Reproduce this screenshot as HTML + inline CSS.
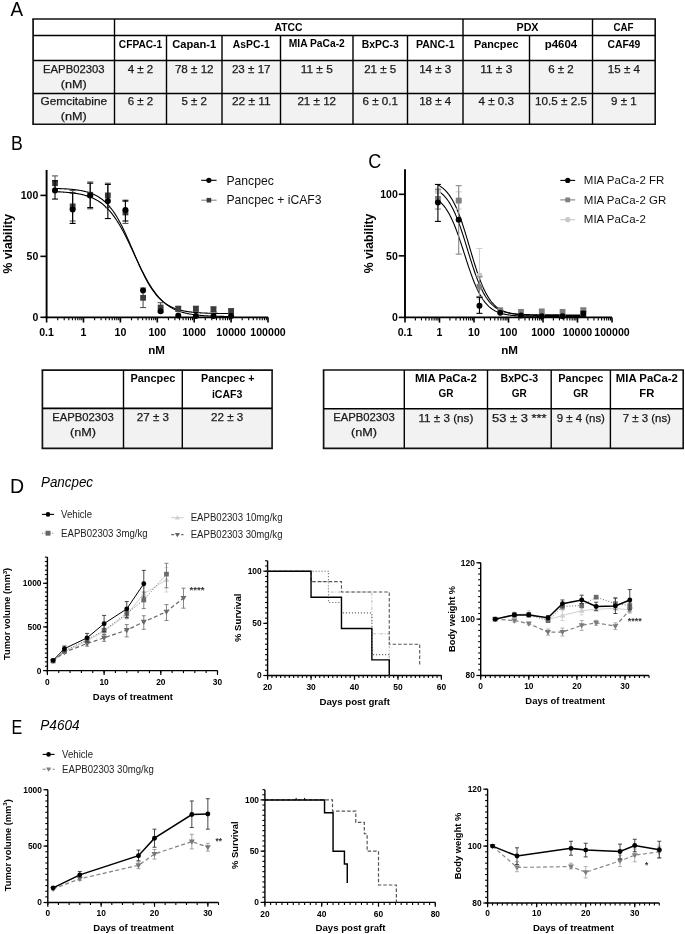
<!DOCTYPE html>
<html><head><meta charset="utf-8"><style>
html,body{margin:0;padding:0;background:#fff;overflow:hidden;}
svg{display:block;font-family:"Liberation Sans", sans-serif;will-change:transform;}
</style></head><body>
<svg width="685" height="934" viewBox="0 0 685 934">
<rect width="685" height="934" fill="#fff"/>
<rect x="33.10" y="60.50" width="622.10" height="63.80" fill="#f2f2f2"/>
<text x="288.50" y="31.00" font-size="11" font-weight="bold" text-anchor="middle" fill="#000" textLength="28" lengthAdjust="spacingAndGlyphs" >ATCC</text>
<text x="527.50" y="31.00" font-size="11" font-weight="bold" text-anchor="middle" fill="#000" textLength="22" lengthAdjust="spacingAndGlyphs" >PDX</text>
<text x="623.50" y="31.00" font-size="11" font-weight="bold" text-anchor="middle" fill="#000" textLength="20" lengthAdjust="spacingAndGlyphs" >CAF</text>
<text x="140.50" y="47.80" font-size="11" font-weight="bold" text-anchor="middle" fill="#000" textLength="43.3" lengthAdjust="spacingAndGlyphs" >CFPAC-1</text>
<text x="194.25" y="47.80" font-size="11" font-weight="bold" text-anchor="middle" fill="#000" textLength="44" lengthAdjust="spacingAndGlyphs" >Capan-1</text>
<text x="251.25" y="47.80" font-size="11" font-weight="bold" text-anchor="middle" fill="#000" textLength="36.8" lengthAdjust="spacingAndGlyphs" >AsPC-1</text>
<text x="316.75" y="46.80" font-size="10" font-weight="bold" text-anchor="middle" fill="#000" textLength="56" lengthAdjust="spacingAndGlyphs" >MIA PaCa-2</text>
<text x="380.25" y="47.80" font-size="11" font-weight="bold" text-anchor="middle" fill="#000" textLength="36.8" lengthAdjust="spacingAndGlyphs" >BxPC-3</text>
<text x="435.25" y="47.80" font-size="11" font-weight="bold" text-anchor="middle" fill="#000" textLength="38.6" lengthAdjust="spacingAndGlyphs" >PANC-1</text>
<text x="496.25" y="47.80" font-size="11" font-weight="bold" text-anchor="middle" fill="#000" textLength="44.5" lengthAdjust="spacingAndGlyphs" >Pancpec</text>
<text x="561.00" y="47.80" font-size="11" font-weight="bold" text-anchor="middle" fill="#000" textLength="32.5" lengthAdjust="spacingAndGlyphs" >p4604</text>
<text x="623.85" y="47.80" font-size="11" font-weight="bold" text-anchor="middle" fill="#000" textLength="32.9" lengthAdjust="spacingAndGlyphs" >CAF49</text>
<text x="73.80" y="72.70" font-size="11" font-weight="normal" text-anchor="middle" fill="#1a1a1a" textLength="61.5" lengthAdjust="spacingAndGlyphs" stroke="#1a1a1a" stroke-width="0.25">EAPB02303</text>
<text x="73.80" y="87.80" font-size="11" font-weight="normal" text-anchor="middle" fill="#1a1a1a" textLength="26" lengthAdjust="spacingAndGlyphs" stroke="#1a1a1a" stroke-width="0.25">(nM)</text>
<text x="73.80" y="105.10" font-size="11" font-weight="normal" text-anchor="middle" fill="#1a1a1a" textLength="66.6" lengthAdjust="spacingAndGlyphs" stroke="#1a1a1a" stroke-width="0.25">Gemcitabine</text>
<text x="73.80" y="120.30" font-size="11" font-weight="normal" text-anchor="middle" fill="#1a1a1a" textLength="26" lengthAdjust="spacingAndGlyphs" stroke="#1a1a1a" stroke-width="0.25">(nM)</text>
<text x="140.50" y="72.70" font-size="11" font-weight="normal" text-anchor="middle" fill="#1a1a1a" textLength="25.5" lengthAdjust="spacingAndGlyphs" stroke="#1a1a1a" stroke-width="0.25">4 ± 2</text>
<text x="140.50" y="105.10" font-size="11" font-weight="normal" text-anchor="middle" fill="#1a1a1a" textLength="25.5" lengthAdjust="spacingAndGlyphs" stroke="#1a1a1a" stroke-width="0.25">6 ± 2</text>
<text x="194.25" y="72.70" font-size="11" font-weight="normal" text-anchor="middle" fill="#1a1a1a" textLength="38.7" lengthAdjust="spacingAndGlyphs" stroke="#1a1a1a" stroke-width="0.25">78 ± 12</text>
<text x="194.25" y="105.10" font-size="11" font-weight="normal" text-anchor="middle" fill="#1a1a1a" textLength="25.5" lengthAdjust="spacingAndGlyphs" stroke="#1a1a1a" stroke-width="0.25">5 ± 2</text>
<text x="251.25" y="72.70" font-size="11" font-weight="normal" text-anchor="middle" fill="#1a1a1a" textLength="38.7" lengthAdjust="spacingAndGlyphs" stroke="#1a1a1a" stroke-width="0.25">23 ± 17</text>
<text x="251.25" y="105.10" font-size="11" font-weight="normal" text-anchor="middle" fill="#1a1a1a" textLength="38.7" lengthAdjust="spacingAndGlyphs" stroke="#1a1a1a" stroke-width="0.25">22 ± 11</text>
<text x="316.75" y="72.70" font-size="11" font-weight="normal" text-anchor="middle" fill="#1a1a1a" textLength="32.1" lengthAdjust="spacingAndGlyphs" stroke="#1a1a1a" stroke-width="0.25">11 ± 5</text>
<text x="316.75" y="105.10" font-size="11" font-weight="normal" text-anchor="middle" fill="#1a1a1a" textLength="38.7" lengthAdjust="spacingAndGlyphs" stroke="#1a1a1a" stroke-width="0.25">21 ± 12</text>
<text x="380.25" y="72.70" font-size="11" font-weight="normal" text-anchor="middle" fill="#1a1a1a" textLength="32.1" lengthAdjust="spacingAndGlyphs" stroke="#1a1a1a" stroke-width="0.25">21 ± 5</text>
<text x="380.25" y="105.10" font-size="11" font-weight="normal" text-anchor="middle" fill="#1a1a1a" textLength="35.4" lengthAdjust="spacingAndGlyphs" stroke="#1a1a1a" stroke-width="0.25">6 ± 0.1</text>
<text x="435.25" y="72.70" font-size="11" font-weight="normal" text-anchor="middle" fill="#1a1a1a" textLength="32.1" lengthAdjust="spacingAndGlyphs" stroke="#1a1a1a" stroke-width="0.25">14 ± 3</text>
<text x="435.25" y="105.10" font-size="11" font-weight="normal" text-anchor="middle" fill="#1a1a1a" textLength="32.1" lengthAdjust="spacingAndGlyphs" stroke="#1a1a1a" stroke-width="0.25">18 ± 4</text>
<text x="496.25" y="72.70" font-size="11" font-weight="normal" text-anchor="middle" fill="#1a1a1a" textLength="32.1" lengthAdjust="spacingAndGlyphs" stroke="#1a1a1a" stroke-width="0.25">11 ± 3</text>
<text x="496.25" y="105.10" font-size="11" font-weight="normal" text-anchor="middle" fill="#1a1a1a" textLength="35.4" lengthAdjust="spacingAndGlyphs" stroke="#1a1a1a" stroke-width="0.25">4 ± 0.3</text>
<text x="561.00" y="72.70" font-size="11" font-weight="normal" text-anchor="middle" fill="#1a1a1a" textLength="25.5" lengthAdjust="spacingAndGlyphs" stroke="#1a1a1a" stroke-width="0.25">6 ± 2</text>
<text x="561.00" y="105.10" font-size="11" font-weight="normal" text-anchor="middle" fill="#1a1a1a" textLength="51.9" lengthAdjust="spacingAndGlyphs" stroke="#1a1a1a" stroke-width="0.25">10.5 ± 2.5</text>
<text x="623.85" y="72.70" font-size="11" font-weight="normal" text-anchor="middle" fill="#1a1a1a" textLength="32.1" lengthAdjust="spacingAndGlyphs" stroke="#1a1a1a" stroke-width="0.25">15 ± 4</text>
<text x="623.85" y="105.10" font-size="11" font-weight="normal" text-anchor="middle" fill="#1a1a1a" textLength="25.5" lengthAdjust="spacingAndGlyphs" stroke="#1a1a1a" stroke-width="0.25">9 ± 1</text>
<line x1="32.30" y1="19.00" x2="656.00" y2="19.00" stroke="#111" stroke-width="1.7" stroke-linecap="butt"/>
<line x1="32.30" y1="124.30" x2="656.00" y2="124.30" stroke="#111" stroke-width="1.6" stroke-linecap="butt"/>
<line x1="33.10" y1="19.00" x2="33.10" y2="124.30" stroke="#111" stroke-width="1.7" stroke-linecap="butt"/>
<line x1="655.20" y1="19.00" x2="655.20" y2="124.30" stroke="#111" stroke-width="1.6" stroke-linecap="butt"/>
<line x1="33.10" y1="35.50" x2="655.20" y2="35.50" stroke="#000" stroke-width="1.4" stroke-linecap="butt"/>
<line x1="33.10" y1="60.50" x2="655.20" y2="60.50" stroke="#000" stroke-width="1.6" stroke-linecap="butt"/>
<line x1="33.10" y1="93.50" x2="655.20" y2="93.50" stroke="#000" stroke-width="1.4" stroke-linecap="butt"/>
<line x1="114.50" y1="19.00" x2="114.50" y2="124.30" stroke="#000" stroke-width="1.4" stroke-linecap="butt"/>
<line x1="166.50" y1="35.50" x2="166.50" y2="124.30" stroke="#000" stroke-width="1.4" stroke-linecap="butt"/>
<line x1="222.00" y1="35.50" x2="222.00" y2="124.30" stroke="#000" stroke-width="1.4" stroke-linecap="butt"/>
<line x1="280.50" y1="35.50" x2="280.50" y2="124.30" stroke="#000" stroke-width="1.4" stroke-linecap="butt"/>
<line x1="353.00" y1="35.50" x2="353.00" y2="124.30" stroke="#000" stroke-width="1.4" stroke-linecap="butt"/>
<line x1="407.50" y1="35.50" x2="407.50" y2="124.30" stroke="#000" stroke-width="1.4" stroke-linecap="butt"/>
<line x1="463.00" y1="19.00" x2="463.00" y2="124.30" stroke="#000" stroke-width="1.4" stroke-linecap="butt"/>
<line x1="529.50" y1="35.50" x2="529.50" y2="124.30" stroke="#000" stroke-width="1.4" stroke-linecap="butt"/>
<line x1="592.50" y1="19.00" x2="592.50" y2="124.30" stroke="#000" stroke-width="1.4" stroke-linecap="butt"/>
<text x="10.60" y="15.80" font-size="19.5" font-weight="normal" text-anchor="start" fill="#000" textLength="12.6" lengthAdjust="spacingAndGlyphs" >A</text>
<text x="10.90" y="150.00" font-size="19.5" font-weight="normal" text-anchor="start" fill="#000" textLength="11.8" lengthAdjust="spacingAndGlyphs" >B</text>
<text x="368.30" y="168.10" font-size="20.5" font-weight="normal" text-anchor="start" fill="#000" textLength="13" lengthAdjust="spacingAndGlyphs" >C</text>
<rect x="42.40" y="408.40" width="229.70" height="40.00" fill="#f2f2f2"/>
<text x="152.90" y="382.40" font-size="11" font-weight="bold" text-anchor="middle" fill="#000" textLength="45" lengthAdjust="spacingAndGlyphs" >Pancpec</text>
<text x="227.80" y="382.40" font-size="11" font-weight="bold" text-anchor="middle" fill="#000" textLength="53.5" lengthAdjust="spacingAndGlyphs" >Pancpec +</text>
<text x="227.20" y="397.80" font-size="11" font-weight="bold" text-anchor="middle" fill="#000" textLength="30.5" lengthAdjust="spacingAndGlyphs" >iCAF3</text>
<text x="82.95" y="420.70" font-size="11" font-weight="normal" text-anchor="middle" fill="#1a1a1a" textLength="61.5" lengthAdjust="spacingAndGlyphs" stroke="#1a1a1a" stroke-width="0.25">EAPB02303</text>
<text x="82.95" y="435.80" font-size="11" font-weight="normal" text-anchor="middle" fill="#1a1a1a" textLength="26" lengthAdjust="spacingAndGlyphs" stroke="#1a1a1a" stroke-width="0.25">(nM)</text>
<text x="152.90" y="421.00" font-size="11" font-weight="normal" text-anchor="middle" fill="#1a1a1a" textLength="32.123" lengthAdjust="spacingAndGlyphs" stroke="#1a1a1a" stroke-width="0.25">27 ± 3</text>
<text x="227.20" y="421.00" font-size="11" font-weight="normal" text-anchor="middle" fill="#1a1a1a" textLength="32.123" lengthAdjust="spacingAndGlyphs" stroke="#1a1a1a" stroke-width="0.25">22 ± 3</text>
<line x1="41.60" y1="370.10" x2="272.90" y2="370.10" stroke="#111" stroke-width="1.7" stroke-linecap="butt"/>
<line x1="41.60" y1="448.40" x2="272.90" y2="448.40" stroke="#111" stroke-width="1.6" stroke-linecap="butt"/>
<line x1="42.40" y1="370.10" x2="42.40" y2="448.40" stroke="#111" stroke-width="1.7" stroke-linecap="butt"/>
<line x1="272.10" y1="370.10" x2="272.10" y2="448.40" stroke="#111" stroke-width="1.6" stroke-linecap="butt"/>
<line x1="42.40" y1="408.40" x2="272.10" y2="408.40" stroke="#000" stroke-width="1.6" stroke-linecap="butt"/>
<line x1="123.50" y1="370.10" x2="123.50" y2="448.40" stroke="#000" stroke-width="1.4" stroke-linecap="butt"/>
<line x1="182.30" y1="370.10" x2="182.30" y2="448.40" stroke="#000" stroke-width="1.4" stroke-linecap="butt"/>
<rect x="323.60" y="408.80" width="359.60" height="39.60" fill="#f2f2f2"/>
<text x="445.90" y="382.40" font-size="11" font-weight="bold" text-anchor="middle" fill="#000" textLength="62" lengthAdjust="spacingAndGlyphs" >MIA PaCa-2</text>
<text x="445.90" y="397.40" font-size="11" font-weight="bold" text-anchor="middle" fill="#000" textLength="15" lengthAdjust="spacingAndGlyphs" >GR</text>
<text x="519.35" y="382.40" font-size="11" font-weight="bold" text-anchor="middle" fill="#000" textLength="37.5" lengthAdjust="spacingAndGlyphs" >BxPC-3</text>
<text x="519.35" y="397.40" font-size="11" font-weight="bold" text-anchor="middle" fill="#000" textLength="15" lengthAdjust="spacingAndGlyphs" >GR</text>
<text x="580.80" y="382.40" font-size="11" font-weight="bold" text-anchor="middle" fill="#000" textLength="45" lengthAdjust="spacingAndGlyphs" >Pancpec</text>
<text x="580.80" y="397.40" font-size="11" font-weight="bold" text-anchor="middle" fill="#000" textLength="15" lengthAdjust="spacingAndGlyphs" >GR</text>
<text x="646.80" y="382.40" font-size="11" font-weight="bold" text-anchor="middle" fill="#000" textLength="62" lengthAdjust="spacingAndGlyphs" >MIA PaCa-2</text>
<text x="646.80" y="397.40" font-size="11" font-weight="bold" text-anchor="middle" fill="#000" textLength="15" lengthAdjust="spacingAndGlyphs" >FR</text>
<text x="363.95" y="420.70" font-size="11" font-weight="normal" text-anchor="middle" fill="#1a1a1a" textLength="61.5" lengthAdjust="spacingAndGlyphs" stroke="#1a1a1a" stroke-width="0.25">EAPB02303</text>
<text x="363.95" y="435.80" font-size="11" font-weight="normal" text-anchor="middle" fill="#1a1a1a" textLength="26" lengthAdjust="spacingAndGlyphs" stroke="#1a1a1a" stroke-width="0.25">(nM)</text>
<text x="445.90" y="421.50" font-size="11" font-weight="normal" text-anchor="middle" fill="#1a1a1a" textLength="54.8" lengthAdjust="spacingAndGlyphs" stroke="#1a1a1a" stroke-width="0.25">11 ± 3 (ns)</text>
<text x="519.35" y="421.50" font-size="11" font-weight="normal" text-anchor="middle" fill="#1a1a1a" textLength="54.5" lengthAdjust="spacingAndGlyphs" stroke="#1a1a1a" stroke-width="0.25">53 ± 3 ***</text>
<text x="580.80" y="421.50" font-size="11" font-weight="normal" text-anchor="middle" fill="#1a1a1a" textLength="48.3" lengthAdjust="spacingAndGlyphs" stroke="#1a1a1a" stroke-width="0.25">9 ± 4 (ns)</text>
<text x="646.80" y="421.50" font-size="11" font-weight="normal" text-anchor="middle" fill="#1a1a1a" textLength="48.3" lengthAdjust="spacingAndGlyphs" stroke="#1a1a1a" stroke-width="0.25">7 ± 3 (ns)</text>
<line x1="322.80" y1="370.00" x2="684.00" y2="370.00" stroke="#111" stroke-width="1.7" stroke-linecap="butt"/>
<line x1="322.80" y1="448.40" x2="684.00" y2="448.40" stroke="#111" stroke-width="1.6" stroke-linecap="butt"/>
<line x1="323.60" y1="370.00" x2="323.60" y2="448.40" stroke="#111" stroke-width="1.7" stroke-linecap="butt"/>
<line x1="683.20" y1="370.00" x2="683.20" y2="448.40" stroke="#111" stroke-width="1.6" stroke-linecap="butt"/>
<line x1="323.60" y1="408.80" x2="683.20" y2="408.80" stroke="#000" stroke-width="1.6" stroke-linecap="butt"/>
<line x1="404.30" y1="370.00" x2="404.30" y2="448.40" stroke="#000" stroke-width="1.4" stroke-linecap="butt"/>
<line x1="487.50" y1="370.00" x2="487.50" y2="448.40" stroke="#000" stroke-width="1.4" stroke-linecap="butt"/>
<line x1="551.20" y1="370.00" x2="551.20" y2="448.40" stroke="#000" stroke-width="1.4" stroke-linecap="butt"/>
<line x1="610.40" y1="370.00" x2="610.40" y2="448.40" stroke="#000" stroke-width="1.4" stroke-linecap="butt"/>
<polyline points="52.88,188.40 53.62,188.41 54.36,188.43 55.10,188.45 55.83,188.47 56.57,188.49 57.31,188.52 58.05,188.54 58.79,188.57 59.52,188.59 60.26,188.62 61.00,188.65 61.74,188.69 62.48,188.72 63.21,188.76 63.95,188.79 64.69,188.83 65.43,188.88 66.17,188.92 66.90,188.97 67.64,189.02 68.38,189.07 69.12,189.13 69.86,189.18 70.59,189.25 71.33,189.31 72.07,189.38 72.81,189.45 73.55,189.53 74.28,189.61 75.02,189.70 75.76,189.79 76.50,189.88 77.24,189.98 77.97,190.09 78.71,190.20 79.45,190.32 80.19,190.44 80.93,190.57 81.66,190.71 82.40,190.86 83.14,191.01 83.88,191.17 84.62,191.34 85.35,191.52 86.09,191.71 86.83,191.91 87.57,192.12 88.31,192.34 89.04,192.58 89.78,192.82 90.52,193.08 91.26,193.35 92.00,193.64 92.73,193.94 93.47,194.26 94.21,194.59 94.95,194.94 95.69,195.31 96.42,195.69 97.16,196.10 97.90,196.52 98.64,196.97 99.38,197.43 100.11,197.92 100.85,198.43 101.59,198.97 102.33,199.53 103.07,200.12 103.80,200.74 104.54,201.38 105.28,202.05 106.02,202.75 106.76,203.48 107.49,204.25 108.23,205.04 108.97,205.87 109.71,206.73 110.45,207.62 111.18,208.55 111.92,209.51 112.66,210.51 113.40,211.55 114.14,212.62 114.87,213.73 115.61,214.88 116.35,216.06 117.09,217.28 117.83,218.54 118.56,219.83 119.30,221.16 120.04,222.52 120.78,223.92 121.52,225.35 122.25,226.82 122.99,228.31 123.73,229.84 124.47,231.39 125.21,232.97 125.94,234.58 126.68,236.21 127.42,237.86 128.16,239.53 128.90,241.21 129.63,242.91 130.37,244.63 131.11,246.35 131.85,248.08 132.59,249.81 133.32,251.54 134.06,253.28 134.80,255.01 135.54,256.73 136.28,258.45 137.01,260.15 137.75,261.84 138.49,263.51 139.23,265.17 139.97,266.80 140.70,268.41 141.44,270.00 142.18,271.56 142.92,273.09 143.66,274.59 144.39,276.06 145.13,277.50 145.87,278.91 146.61,280.28 147.35,281.61 148.08,282.91 148.82,284.18 149.56,285.41 150.30,286.60 151.04,287.75 151.77,288.87 152.51,289.95 153.25,290.99 153.99,292.00 154.73,292.97 155.46,293.91 156.20,294.81 156.94,295.68 157.68,296.51 158.42,297.32 159.15,298.08 159.89,298.82 160.63,299.53 161.37,300.21 162.11,300.86 162.84,301.48 163.58,302.07 164.32,302.64 165.06,303.18 165.80,303.70 166.53,304.19 167.27,304.66 168.01,305.11 168.75,305.54 169.49,305.95 170.22,306.34 170.96,306.71 171.70,307.07 172.44,307.40 173.18,307.72 173.91,308.03 174.65,308.31 175.39,308.59 176.13,308.85 176.87,309.10 177.60,309.34 178.34,309.56 179.08,309.77 179.82,309.97 180.56,310.17 181.29,310.35 182.03,310.52 182.77,310.68 183.51,310.84 184.25,310.99 184.98,311.13 185.72,311.26 186.46,311.39 187.20,311.51 187.94,311.62 188.67,311.73 189.41,311.83 190.15,311.92 190.89,312.01 191.63,312.10 192.36,312.18 193.10,312.26 193.84,312.33 194.58,312.40 195.32,312.47 196.05,312.53 196.79,312.59 197.53,312.65 198.27,312.70 199.01,312.75 199.74,312.80 200.48,312.84 201.22,312.89 201.96,312.93 202.70,312.97 203.43,313.00 204.17,313.04 204.91,313.07 205.65,313.10 206.39,313.13 207.12,313.16 207.86,313.18 208.60,313.21 209.34,313.23 210.08,313.25 210.81,313.27 211.55,313.29 212.29,313.31 213.03,313.33 213.77,313.35 214.50,313.36 215.24,313.38 215.98,313.39 216.72,313.40 217.46,313.42 218.19,313.43 218.93,313.44 219.67,313.45 220.41,313.46 221.15,313.47 221.88,313.48 222.62,313.49 223.36,313.50 224.10,313.51 224.84,313.51 225.57,313.52 226.31,313.53 227.05,313.53 227.79,313.54 228.53,313.54 229.26,313.55 230.00,313.55 230.74,313.56" fill="none" stroke="#000" stroke-width="1.1" stroke-linejoin="miter"/>
<polyline points="52.88,191.61 53.62,191.63 54.36,191.66 55.10,191.69 55.83,191.71 56.57,191.74 57.31,191.78 58.05,191.81 58.79,191.84 59.52,191.88 60.26,191.92 61.00,191.96 61.74,192.00 62.48,192.05 63.21,192.09 63.95,192.14 64.69,192.20 65.43,192.25 66.17,192.31 66.90,192.37 67.64,192.43 68.38,192.50 69.12,192.57 69.86,192.64 70.59,192.72 71.33,192.80 72.07,192.89 72.81,192.98 73.55,193.07 74.28,193.17 75.02,193.27 75.76,193.38 76.50,193.50 77.24,193.62 77.97,193.74 78.71,193.88 79.45,194.02 80.19,194.16 80.93,194.32 81.66,194.48 82.40,194.65 83.14,194.82 83.88,195.01 84.62,195.20 85.35,195.41 86.09,195.62 86.83,195.85 87.57,196.08 88.31,196.33 89.04,196.59 89.78,196.86 90.52,197.14 91.26,197.44 92.00,197.75 92.73,198.07 93.47,198.41 94.21,198.77 94.95,199.14 95.69,199.53 96.42,199.93 97.16,200.36 97.90,200.80 98.64,201.26 99.38,201.74 100.11,202.24 100.85,202.77 101.59,203.31 102.33,203.88 103.07,204.47 103.80,205.09 104.54,205.73 105.28,206.40 106.02,207.09 106.76,207.81 107.49,208.55 108.23,209.33 108.97,210.13 109.71,210.96 110.45,211.82 111.18,212.71 111.92,213.63 112.66,214.58 113.40,215.57 114.14,216.58 114.87,217.62 115.61,218.70 116.35,219.80 117.09,220.94 117.83,222.10 118.56,223.30 119.30,224.53 120.04,225.78 120.78,227.07 121.52,228.38 122.25,229.72 122.99,231.09 123.73,232.48 124.47,233.90 125.21,235.34 125.94,236.80 126.68,238.28 127.42,239.78 128.16,241.30 128.90,242.83 129.63,244.38 130.37,245.94 131.11,247.51 131.85,249.09 132.59,250.67 133.32,252.26 134.06,253.85 134.80,255.44 135.54,257.03 136.28,258.61 137.01,260.19 137.75,261.76 138.49,263.32 139.23,264.87 139.97,266.40 140.70,267.92 141.44,269.42 142.18,270.90 142.92,272.37 143.66,273.81 144.39,275.23 145.13,276.62 145.87,277.99 146.61,279.33 147.35,280.65 148.08,281.94 148.82,283.20 149.56,284.43 150.30,285.62 151.04,286.79 151.77,287.93 152.51,289.04 153.25,290.12 153.99,291.16 154.73,292.18 155.46,293.16 156.20,294.11 156.94,295.04 157.68,295.93 158.42,296.79 159.15,297.63 159.89,298.43 160.63,299.21 161.37,299.96 162.11,300.68 162.84,301.37 163.58,302.04 164.32,302.68 165.06,303.30 165.80,303.90 166.53,304.47 167.27,305.01 168.01,305.54 168.75,306.04 169.49,306.53 170.22,306.99 170.96,307.43 171.70,307.86 172.44,308.27 173.18,308.66 173.91,309.03 174.65,309.38 175.39,309.73 176.13,310.05 176.87,310.36 177.60,310.66 178.34,310.94 179.08,311.22 179.82,311.47 180.56,311.72 181.29,311.96 182.03,312.18 182.77,312.40 183.51,312.60 184.25,312.80 184.98,312.99 185.72,313.16 186.46,313.33 187.20,313.50 187.94,313.65 188.67,313.80 189.41,313.94 190.15,314.07 190.89,314.20 191.63,314.32 192.36,314.43 193.10,314.54 193.84,314.65 194.58,314.75 195.32,314.84 196.05,314.93 196.79,315.02 197.53,315.10 198.27,315.18 199.01,315.25 199.74,315.32 200.48,315.39 201.22,315.45 201.96,315.51 202.70,315.57 203.43,315.62 204.17,315.68 204.91,315.73 205.65,315.77 206.39,315.82 207.12,315.86 207.86,315.90 208.60,315.94 209.34,315.98 210.08,316.01 210.81,316.05 211.55,316.08 212.29,316.11 213.03,316.14 213.77,316.16 214.50,316.19 215.24,316.21 215.98,316.24 216.72,316.26 217.46,316.28 218.19,316.30 218.93,316.32 219.67,316.34 220.41,316.36 221.15,316.37 221.88,316.39 222.62,316.40 223.36,316.42 224.10,316.43 224.84,316.44 225.57,316.46 226.31,316.47 227.05,316.48 227.79,316.49 228.53,316.50 229.26,316.51 230.00,316.52 230.74,316.53" fill="none" stroke="#000" stroke-width="1.1" stroke-linejoin="miter"/>
<line x1="55.01" y1="175.90" x2="55.01" y2="189.31" stroke="#555" stroke-width="1.1" stroke-linecap="butt"/>
<line x1="52.01" y1="175.90" x2="58.01" y2="175.90" stroke="#555" stroke-width="1.1" stroke-linecap="butt"/>
<line x1="52.01" y1="189.31" x2="58.01" y2="189.31" stroke="#555" stroke-width="1.1" stroke-linecap="butt"/>
<line x1="72.65" y1="190.52" x2="72.65" y2="221.00" stroke="#555" stroke-width="1.1" stroke-linecap="butt"/>
<line x1="69.65" y1="190.52" x2="75.65" y2="190.52" stroke="#555" stroke-width="1.1" stroke-linecap="butt"/>
<line x1="69.65" y1="221.00" x2="75.65" y2="221.00" stroke="#555" stroke-width="1.1" stroke-linecap="butt"/>
<line x1="90.21" y1="181.99" x2="90.21" y2="208.81" stroke="#555" stroke-width="1.1" stroke-linecap="butt"/>
<line x1="87.21" y1="181.99" x2="93.21" y2="181.99" stroke="#555" stroke-width="1.1" stroke-linecap="butt"/>
<line x1="87.21" y1="208.81" x2="93.21" y2="208.81" stroke="#555" stroke-width="1.1" stroke-linecap="butt"/>
<line x1="107.85" y1="183.21" x2="107.85" y2="207.59" stroke="#555" stroke-width="1.1" stroke-linecap="butt"/>
<line x1="104.85" y1="183.21" x2="110.85" y2="183.21" stroke="#555" stroke-width="1.1" stroke-linecap="butt"/>
<line x1="104.85" y1="207.59" x2="110.85" y2="207.59" stroke="#555" stroke-width="1.1" stroke-linecap="butt"/>
<line x1="125.44" y1="201.50" x2="125.44" y2="223.44" stroke="#555" stroke-width="1.1" stroke-linecap="butt"/>
<line x1="122.44" y1="201.50" x2="128.44" y2="201.50" stroke="#555" stroke-width="1.1" stroke-linecap="butt"/>
<line x1="122.44" y1="223.44" x2="128.44" y2="223.44" stroke="#555" stroke-width="1.1" stroke-linecap="butt"/>
<line x1="143.09" y1="288.04" x2="143.09" y2="307.55" stroke="#555" stroke-width="1.1" stroke-linecap="butt"/>
<line x1="140.09" y1="288.04" x2="146.09" y2="288.04" stroke="#555" stroke-width="1.1" stroke-linecap="butt"/>
<line x1="140.09" y1="307.55" x2="146.09" y2="307.55" stroke="#555" stroke-width="1.1" stroke-linecap="butt"/>
<line x1="160.62" y1="302.67" x2="160.62" y2="312.42" stroke="#555" stroke-width="1.1" stroke-linecap="butt"/>
<line x1="157.62" y1="302.67" x2="163.62" y2="302.67" stroke="#555" stroke-width="1.1" stroke-linecap="butt"/>
<line x1="157.62" y1="312.42" x2="163.62" y2="312.42" stroke="#555" stroke-width="1.1" stroke-linecap="butt"/>
<line x1="178.27" y1="306.33" x2="178.27" y2="311.20" stroke="#555" stroke-width="1.1" stroke-linecap="butt"/>
<line x1="175.27" y1="306.33" x2="181.27" y2="306.33" stroke="#555" stroke-width="1.1" stroke-linecap="butt"/>
<line x1="175.27" y1="311.20" x2="181.27" y2="311.20" stroke="#555" stroke-width="1.1" stroke-linecap="butt"/>
<line x1="195.89" y1="306.33" x2="195.89" y2="311.20" stroke="#555" stroke-width="1.1" stroke-linecap="butt"/>
<line x1="192.89" y1="306.33" x2="198.89" y2="306.33" stroke="#555" stroke-width="1.1" stroke-linecap="butt"/>
<line x1="192.89" y1="311.20" x2="198.89" y2="311.20" stroke="#555" stroke-width="1.1" stroke-linecap="butt"/>
<line x1="213.49" y1="306.94" x2="213.49" y2="311.81" stroke="#555" stroke-width="1.1" stroke-linecap="butt"/>
<line x1="210.49" y1="306.94" x2="216.49" y2="306.94" stroke="#555" stroke-width="1.1" stroke-linecap="butt"/>
<line x1="210.49" y1="311.81" x2="216.49" y2="311.81" stroke="#555" stroke-width="1.1" stroke-linecap="butt"/>
<line x1="231.10" y1="308.77" x2="231.10" y2="313.64" stroke="#555" stroke-width="1.1" stroke-linecap="butt"/>
<line x1="228.10" y1="308.77" x2="234.10" y2="308.77" stroke="#555" stroke-width="1.1" stroke-linecap="butt"/>
<line x1="228.10" y1="313.64" x2="234.10" y2="313.64" stroke="#555" stroke-width="1.1" stroke-linecap="butt"/>
<rect x="52.11" y="180.31" width="5.80" height="5.80" fill="#3c3c3c"/>
<rect x="69.75" y="203.47" width="5.80" height="5.80" fill="#3c3c3c"/>
<rect x="87.31" y="191.89" width="5.80" height="5.80" fill="#3c3c3c"/>
<rect x="104.95" y="192.50" width="5.80" height="5.80" fill="#3c3c3c"/>
<rect x="122.54" y="209.57" width="5.80" height="5.80" fill="#3c3c3c"/>
<rect x="140.19" y="294.90" width="5.80" height="5.80" fill="#3c3c3c"/>
<rect x="157.72" y="304.65" width="5.80" height="5.80" fill="#3c3c3c"/>
<rect x="175.37" y="305.87" width="5.80" height="5.80" fill="#3c3c3c"/>
<rect x="192.99" y="305.87" width="5.80" height="5.80" fill="#3c3c3c"/>
<rect x="210.59" y="306.48" width="5.80" height="5.80" fill="#3c3c3c"/>
<rect x="228.20" y="308.31" width="5.80" height="5.80" fill="#3c3c3c"/>
<line x1="55.01" y1="180.77" x2="55.01" y2="199.06" stroke="#000" stroke-width="1.1" stroke-linecap="butt"/>
<line x1="52.01" y1="180.77" x2="58.01" y2="180.77" stroke="#000" stroke-width="1.1" stroke-linecap="butt"/>
<line x1="52.01" y1="199.06" x2="58.01" y2="199.06" stroke="#000" stroke-width="1.1" stroke-linecap="butt"/>
<line x1="72.65" y1="192.96" x2="72.65" y2="223.44" stroke="#000" stroke-width="1.1" stroke-linecap="butt"/>
<line x1="69.65" y1="192.96" x2="75.65" y2="192.96" stroke="#000" stroke-width="1.1" stroke-linecap="butt"/>
<line x1="69.65" y1="223.44" x2="75.65" y2="223.44" stroke="#000" stroke-width="1.1" stroke-linecap="butt"/>
<line x1="90.21" y1="183.21" x2="90.21" y2="207.59" stroke="#000" stroke-width="1.1" stroke-linecap="butt"/>
<line x1="87.21" y1="183.21" x2="93.21" y2="183.21" stroke="#000" stroke-width="1.1" stroke-linecap="butt"/>
<line x1="87.21" y1="207.59" x2="93.21" y2="207.59" stroke="#000" stroke-width="1.1" stroke-linecap="butt"/>
<line x1="107.85" y1="184.43" x2="107.85" y2="218.56" stroke="#000" stroke-width="1.1" stroke-linecap="butt"/>
<line x1="104.85" y1="184.43" x2="110.85" y2="184.43" stroke="#000" stroke-width="1.1" stroke-linecap="butt"/>
<line x1="104.85" y1="218.56" x2="110.85" y2="218.56" stroke="#000" stroke-width="1.1" stroke-linecap="butt"/>
<line x1="125.44" y1="200.28" x2="125.44" y2="221.00" stroke="#000" stroke-width="1.1" stroke-linecap="butt"/>
<line x1="122.44" y1="200.28" x2="128.44" y2="200.28" stroke="#000" stroke-width="1.1" stroke-linecap="butt"/>
<line x1="122.44" y1="221.00" x2="128.44" y2="221.00" stroke="#000" stroke-width="1.1" stroke-linecap="butt"/>
<circle cx="55.01" cy="190.52" r="3.0" fill="#000"/>
<circle cx="72.65" cy="209.42" r="3.0" fill="#000"/>
<circle cx="90.21" cy="195.40" r="3.0" fill="#000"/>
<circle cx="107.85" cy="200.89" r="3.0" fill="#000"/>
<circle cx="125.44" cy="210.03" r="3.0" fill="#000"/>
<circle cx="143.09" cy="290.48" r="3.0" fill="#000"/>
<circle cx="160.62" cy="311.20" r="3.0" fill="#000"/>
<circle cx="178.27" cy="315.47" r="3.0" fill="#000"/>
<circle cx="195.89" cy="316.08" r="3.0" fill="#000"/>
<circle cx="213.49" cy="316.08" r="3.0" fill="#000"/>
<circle cx="231.10" cy="316.08" r="3.0" fill="#000"/>
<line x1="46.60" y1="170.00" x2="46.60" y2="318.20" stroke="#000" stroke-width="1.9" stroke-linecap="butt"/>
<line x1="40.40" y1="317.30" x2="46.60" y2="317.30" stroke="#000" stroke-width="1.6" stroke-linecap="butt"/>
<text x="38.30" y="321.00" font-size="10.5" font-weight="bold" text-anchor="end" fill="#000" >0</text>
<line x1="40.40" y1="256.35" x2="46.60" y2="256.35" stroke="#000" stroke-width="1.6" stroke-linecap="butt"/>
<text x="38.30" y="260.05" font-size="10.5" font-weight="bold" text-anchor="end" fill="#000" >50</text>
<line x1="40.40" y1="195.40" x2="46.60" y2="195.40" stroke="#000" stroke-width="1.6" stroke-linecap="butt"/>
<text x="38.30" y="199.10" font-size="10.5" font-weight="bold" text-anchor="end" fill="#000" >100</text>
<line x1="45.60" y1="317.30" x2="268.00" y2="317.30" stroke="#000" stroke-width="1.8" stroke-linecap="butt"/>
<line x1="46.60" y1="317.30" x2="46.60" y2="322.50" stroke="#000" stroke-width="1.6" stroke-linecap="butt"/>
<text x="46.60" y="335.70" font-size="10.6" font-weight="bold" text-anchor="middle" fill="#000" >0.1</text>
<line x1="57.71" y1="317.30" x2="57.71" y2="320.30" stroke="#000" stroke-width="1.1" stroke-linecap="butt"/>
<line x1="64.21" y1="317.30" x2="64.21" y2="320.30" stroke="#000" stroke-width="1.1" stroke-linecap="butt"/>
<line x1="68.82" y1="317.30" x2="68.82" y2="320.30" stroke="#000" stroke-width="1.1" stroke-linecap="butt"/>
<line x1="72.39" y1="317.30" x2="72.39" y2="320.30" stroke="#000" stroke-width="1.1" stroke-linecap="butt"/>
<line x1="75.31" y1="317.30" x2="75.31" y2="320.30" stroke="#000" stroke-width="1.1" stroke-linecap="butt"/>
<line x1="77.78" y1="317.30" x2="77.78" y2="320.30" stroke="#000" stroke-width="1.1" stroke-linecap="butt"/>
<line x1="79.92" y1="317.30" x2="79.92" y2="320.30" stroke="#000" stroke-width="1.1" stroke-linecap="butt"/>
<line x1="81.81" y1="317.30" x2="81.81" y2="320.30" stroke="#000" stroke-width="1.1" stroke-linecap="butt"/>
<line x1="83.50" y1="317.30" x2="83.50" y2="322.50" stroke="#000" stroke-width="1.6" stroke-linecap="butt"/>
<text x="83.50" y="335.70" font-size="10.6" font-weight="bold" text-anchor="middle" fill="#000" >1</text>
<line x1="94.61" y1="317.30" x2="94.61" y2="320.30" stroke="#000" stroke-width="1.1" stroke-linecap="butt"/>
<line x1="101.11" y1="317.30" x2="101.11" y2="320.30" stroke="#000" stroke-width="1.1" stroke-linecap="butt"/>
<line x1="105.72" y1="317.30" x2="105.72" y2="320.30" stroke="#000" stroke-width="1.1" stroke-linecap="butt"/>
<line x1="109.29" y1="317.30" x2="109.29" y2="320.30" stroke="#000" stroke-width="1.1" stroke-linecap="butt"/>
<line x1="112.21" y1="317.30" x2="112.21" y2="320.30" stroke="#000" stroke-width="1.1" stroke-linecap="butt"/>
<line x1="114.68" y1="317.30" x2="114.68" y2="320.30" stroke="#000" stroke-width="1.1" stroke-linecap="butt"/>
<line x1="116.82" y1="317.30" x2="116.82" y2="320.30" stroke="#000" stroke-width="1.1" stroke-linecap="butt"/>
<line x1="118.71" y1="317.30" x2="118.71" y2="320.30" stroke="#000" stroke-width="1.1" stroke-linecap="butt"/>
<line x1="120.40" y1="317.30" x2="120.40" y2="322.50" stroke="#000" stroke-width="1.6" stroke-linecap="butt"/>
<text x="120.40" y="335.70" font-size="10.6" font-weight="bold" text-anchor="middle" fill="#000" >10</text>
<line x1="131.51" y1="317.30" x2="131.51" y2="320.30" stroke="#000" stroke-width="1.1" stroke-linecap="butt"/>
<line x1="138.01" y1="317.30" x2="138.01" y2="320.30" stroke="#000" stroke-width="1.1" stroke-linecap="butt"/>
<line x1="142.62" y1="317.30" x2="142.62" y2="320.30" stroke="#000" stroke-width="1.1" stroke-linecap="butt"/>
<line x1="146.19" y1="317.30" x2="146.19" y2="320.30" stroke="#000" stroke-width="1.1" stroke-linecap="butt"/>
<line x1="149.11" y1="317.30" x2="149.11" y2="320.30" stroke="#000" stroke-width="1.1" stroke-linecap="butt"/>
<line x1="151.58" y1="317.30" x2="151.58" y2="320.30" stroke="#000" stroke-width="1.1" stroke-linecap="butt"/>
<line x1="153.72" y1="317.30" x2="153.72" y2="320.30" stroke="#000" stroke-width="1.1" stroke-linecap="butt"/>
<line x1="155.61" y1="317.30" x2="155.61" y2="320.30" stroke="#000" stroke-width="1.1" stroke-linecap="butt"/>
<line x1="157.30" y1="317.30" x2="157.30" y2="322.50" stroke="#000" stroke-width="1.6" stroke-linecap="butt"/>
<text x="157.30" y="335.70" font-size="10.6" font-weight="bold" text-anchor="middle" fill="#000" >100</text>
<line x1="168.41" y1="317.30" x2="168.41" y2="320.30" stroke="#000" stroke-width="1.1" stroke-linecap="butt"/>
<line x1="174.91" y1="317.30" x2="174.91" y2="320.30" stroke="#000" stroke-width="1.1" stroke-linecap="butt"/>
<line x1="179.52" y1="317.30" x2="179.52" y2="320.30" stroke="#000" stroke-width="1.1" stroke-linecap="butt"/>
<line x1="183.09" y1="317.30" x2="183.09" y2="320.30" stroke="#000" stroke-width="1.1" stroke-linecap="butt"/>
<line x1="186.01" y1="317.30" x2="186.01" y2="320.30" stroke="#000" stroke-width="1.1" stroke-linecap="butt"/>
<line x1="188.48" y1="317.30" x2="188.48" y2="320.30" stroke="#000" stroke-width="1.1" stroke-linecap="butt"/>
<line x1="190.62" y1="317.30" x2="190.62" y2="320.30" stroke="#000" stroke-width="1.1" stroke-linecap="butt"/>
<line x1="192.51" y1="317.30" x2="192.51" y2="320.30" stroke="#000" stroke-width="1.1" stroke-linecap="butt"/>
<line x1="194.20" y1="317.30" x2="194.20" y2="322.50" stroke="#000" stroke-width="1.6" stroke-linecap="butt"/>
<text x="194.20" y="335.70" font-size="10.6" font-weight="bold" text-anchor="middle" fill="#000" >1000</text>
<line x1="205.31" y1="317.30" x2="205.31" y2="320.30" stroke="#000" stroke-width="1.1" stroke-linecap="butt"/>
<line x1="211.81" y1="317.30" x2="211.81" y2="320.30" stroke="#000" stroke-width="1.1" stroke-linecap="butt"/>
<line x1="216.42" y1="317.30" x2="216.42" y2="320.30" stroke="#000" stroke-width="1.1" stroke-linecap="butt"/>
<line x1="219.99" y1="317.30" x2="219.99" y2="320.30" stroke="#000" stroke-width="1.1" stroke-linecap="butt"/>
<line x1="222.91" y1="317.30" x2="222.91" y2="320.30" stroke="#000" stroke-width="1.1" stroke-linecap="butt"/>
<line x1="225.38" y1="317.30" x2="225.38" y2="320.30" stroke="#000" stroke-width="1.1" stroke-linecap="butt"/>
<line x1="227.52" y1="317.30" x2="227.52" y2="320.30" stroke="#000" stroke-width="1.1" stroke-linecap="butt"/>
<line x1="229.41" y1="317.30" x2="229.41" y2="320.30" stroke="#000" stroke-width="1.1" stroke-linecap="butt"/>
<line x1="231.10" y1="317.30" x2="231.10" y2="322.50" stroke="#000" stroke-width="1.6" stroke-linecap="butt"/>
<text x="231.10" y="335.70" font-size="10.6" font-weight="bold" text-anchor="middle" fill="#000" >10000</text>
<line x1="242.21" y1="317.30" x2="242.21" y2="320.30" stroke="#000" stroke-width="1.1" stroke-linecap="butt"/>
<line x1="248.71" y1="317.30" x2="248.71" y2="320.30" stroke="#000" stroke-width="1.1" stroke-linecap="butt"/>
<line x1="253.32" y1="317.30" x2="253.32" y2="320.30" stroke="#000" stroke-width="1.1" stroke-linecap="butt"/>
<line x1="256.89" y1="317.30" x2="256.89" y2="320.30" stroke="#000" stroke-width="1.1" stroke-linecap="butt"/>
<line x1="259.81" y1="317.30" x2="259.81" y2="320.30" stroke="#000" stroke-width="1.1" stroke-linecap="butt"/>
<line x1="262.28" y1="317.30" x2="262.28" y2="320.30" stroke="#000" stroke-width="1.1" stroke-linecap="butt"/>
<line x1="264.42" y1="317.30" x2="264.42" y2="320.30" stroke="#000" stroke-width="1.1" stroke-linecap="butt"/>
<line x1="266.31" y1="317.30" x2="266.31" y2="320.30" stroke="#000" stroke-width="1.1" stroke-linecap="butt"/>
<line x1="268.00" y1="317.30" x2="268.00" y2="322.50" stroke="#000" stroke-width="1.6" stroke-linecap="butt"/>
<text x="268.00" y="335.70" font-size="10.6" font-weight="bold" text-anchor="middle" fill="#000" >100000</text>
<text x="12.30" y="243.70" font-size="12.2" font-weight="bold" text-anchor="middle" fill="#000" transform="rotate(-90 12.3 243.7)">% viability</text>
<text x="156.50" y="354.20" font-size="11.6" font-weight="bold" text-anchor="middle" fill="#000" >nM</text>
<polyline points="437.92,199.99 438.61,200.53 439.30,201.10 439.99,201.71 440.68,202.36 441.37,203.04 442.06,203.77 442.75,204.54 443.44,205.34 444.13,206.20 444.82,207.10 445.51,208.05 446.20,209.05 446.89,210.10 447.58,211.20 448.27,212.36 448.96,213.57 449.65,214.84 450.34,216.16 451.03,217.54 451.72,218.98 452.41,220.48 453.10,222.03 453.79,223.64 454.48,225.30 455.17,227.02 455.86,228.79 456.55,230.61 457.24,232.47 457.93,234.39 458.62,236.34 459.31,238.34 460.00,240.37 460.69,242.43 461.38,244.52 462.07,246.63 462.76,248.76 463.45,250.90 464.14,253.05 464.83,255.20 465.52,257.35 466.21,259.49 466.90,261.62 467.59,263.73 468.28,265.82 468.97,267.88 469.66,269.91 470.35,271.90 471.04,273.86 471.73,275.77 472.42,277.64 473.11,279.46 473.80,281.23 474.49,282.95 475.18,284.61 475.87,286.22 476.56,287.77 477.25,289.27 477.94,290.71 478.63,292.09 479.32,293.41 480.01,294.68 480.70,295.89 481.39,297.05 482.08,298.15 482.77,299.20 483.46,300.20 484.15,301.15 484.84,302.05 485.53,302.91 486.22,303.72 486.91,304.48 487.60,305.21 488.29,305.89 488.98,306.54 489.67,307.15 490.36,307.72 491.05,308.27 491.74,308.78 492.43,309.26 493.12,309.71 493.81,310.13 494.50,310.53 495.19,310.91 495.88,311.26 496.57,311.59 497.26,311.90 497.95,312.19 498.64,312.47 499.33,312.72 500.02,312.96 500.71,313.19 501.40,313.40 502.09,313.59 502.78,313.78 503.47,313.95 504.16,314.11 504.85,314.26 505.54,314.40 506.23,314.54 506.92,314.66 507.61,314.78 508.30,314.88 508.99,314.98 509.68,315.08 510.37,315.17 511.06,315.25 511.75,315.33 512.44,315.40 513.13,315.47 513.82,315.53 514.51,315.59 515.20,315.64 515.89,315.69 516.58,315.74 517.27,315.79 517.96,315.83 518.65,315.87 519.34,315.90 520.03,315.94 520.72,315.97 521.41,316.00 522.10,316.03 522.79,316.05 523.48,316.08 524.17,316.10 524.86,316.12 525.55,316.14 526.24,316.16 526.93,316.18 527.62,316.19 528.31,316.21 529.00,316.22 529.69,316.23 530.38,316.25 531.07,316.26 531.76,316.27 532.45,316.28 533.14,316.29 533.83,316.29 534.52,316.30 535.21,316.31 535.90,316.32 536.59,316.32 537.28,316.33 537.97,316.34 538.66,316.34 539.35,316.35 540.04,316.35 540.73,316.35 541.42,316.36 542.11,316.36 542.80,316.37 543.49,316.37 544.18,316.37 544.87,316.38 545.56,316.38 546.25,316.38 546.94,316.38 547.63,316.38 548.32,316.39 549.01,316.39 549.70,316.39 550.39,316.39 551.08,316.39 551.77,316.40 552.46,316.40 553.15,316.40 553.84,316.40 554.53,316.40 555.22,316.40 555.91,316.40 556.60,316.40 557.29,316.40 557.98,316.40 558.67,316.41 559.36,316.41 560.05,316.41 560.74,316.41 561.43,316.41 562.12,316.41 562.81,316.41 563.50,316.41 564.19,316.41 564.88,316.41 565.57,316.41 566.26,316.41 566.95,316.41 567.64,316.41 568.33,316.41 569.02,316.41 569.71,316.41 570.40,316.41 571.09,316.41 571.78,316.41 572.47,316.41 573.16,316.41 573.85,316.41 574.54,316.41 575.23,316.41 575.92,316.41 576.61,316.41 577.30,316.41 577.99,316.41 578.68,316.41 579.37,316.41 580.06,316.41 580.75,316.41 581.44,316.41 582.13,316.41 582.82,316.41" fill="none" stroke="#000" stroke-width="1.1" stroke-linejoin="miter"/>
<polyline points="437.92,190.85 438.61,191.28 439.30,191.74 439.99,192.23 440.68,192.75 441.37,193.30 442.06,193.89 442.75,194.51 443.44,195.18 444.13,195.87 444.82,196.62 445.51,197.40 446.20,198.23 446.89,199.10 447.58,200.02 448.27,201.00 448.96,202.02 449.65,203.10 450.34,204.23 451.03,205.42 451.72,206.66 452.41,207.96 453.10,209.32 453.79,210.74 454.48,212.22 455.17,213.76 455.86,215.36 456.55,217.02 457.24,218.74 457.93,220.52 458.62,222.35 459.31,224.23 460.00,226.17 460.69,228.15 461.38,230.18 462.07,232.25 462.76,234.36 463.45,236.51 464.14,238.68 464.83,240.89 465.52,243.11 466.21,245.34 466.90,247.59 467.59,249.84 468.28,252.10 468.97,254.34 469.66,256.58 470.35,258.80 471.04,261.00 471.73,263.17 472.42,265.31 473.11,267.42 473.80,269.48 474.49,271.51 475.18,273.48 475.87,275.41 476.56,277.29 477.25,279.11 477.94,280.88 478.63,282.59 479.32,284.24 480.01,285.83 480.70,287.37 481.39,288.84 482.08,290.25 482.77,291.60 483.46,292.90 484.15,294.13 484.84,295.31 485.53,296.44 486.22,297.51 486.91,298.52 487.60,299.49 488.29,300.41 488.98,301.28 489.67,302.10 490.36,302.88 491.05,303.61 491.74,304.31 492.43,304.96 493.12,305.58 493.81,306.16 494.50,306.71 495.19,307.23 495.88,307.71 496.57,308.17 497.26,308.60 497.95,309.00 498.64,309.38 499.33,309.74 500.02,310.07 500.71,310.39 501.40,310.68 502.09,310.96 502.78,311.21 503.47,311.46 504.16,311.68 504.85,311.89 505.54,312.09 506.23,312.28 506.92,312.45 507.61,312.62 508.30,312.77 508.99,312.91 509.68,313.04 510.37,313.17 511.06,313.29 511.75,313.39 512.44,313.50 513.13,313.59 513.82,313.68 514.51,313.76 515.20,313.84 515.89,313.91 516.58,313.98 517.27,314.05 517.96,314.10 518.65,314.16 519.34,314.21 520.03,314.26 520.72,314.30 521.41,314.35 522.10,314.39 522.79,314.42 523.48,314.46 524.17,314.49 524.86,314.52 525.55,314.55 526.24,314.57 526.93,314.60 527.62,314.62 528.31,314.64 529.00,314.66 529.69,314.68 530.38,314.70 531.07,314.71 531.76,314.73 532.45,314.74 533.14,314.75 533.83,314.77 534.52,314.78 535.21,314.79 535.90,314.80 536.59,314.81 537.28,314.82 537.97,314.82 538.66,314.83 539.35,314.84 540.04,314.85 540.73,314.85 541.42,314.86 542.11,314.86 542.80,314.87 543.49,314.87 544.18,314.88 544.87,314.88 545.56,314.89 546.25,314.89 546.94,314.89 547.63,314.90 548.32,314.90 549.01,314.90 549.70,314.90 550.39,314.91 551.08,314.91 551.77,314.91 552.46,314.91 553.15,314.91 553.84,314.91 554.53,314.92 555.22,314.92 555.91,314.92 556.60,314.92 557.29,314.92 557.98,314.92 558.67,314.92 559.36,314.92 560.05,314.93 560.74,314.93 561.43,314.93 562.12,314.93 562.81,314.93 563.50,314.93 564.19,314.93 564.88,314.93 565.57,314.93 566.26,314.93 566.95,314.93 567.64,314.93 568.33,314.93 569.02,314.93 569.71,314.93 570.40,314.93 571.09,314.93 571.78,314.93 572.47,314.93 573.16,314.93 573.85,314.93 574.54,314.94 575.23,314.94 575.92,314.94 576.61,314.94 577.30,314.94 577.99,314.94 578.68,314.94 579.37,314.94 580.06,314.94 580.75,314.94 581.44,314.94 582.13,314.94 582.82,314.94" fill="none" stroke="#000" stroke-width="1.1" stroke-linejoin="miter"/>
<polyline points="437.92,184.96 438.61,185.33 439.30,185.72 439.99,186.15 440.68,186.59 441.37,187.07 442.06,187.58 442.75,188.12 443.44,188.69 444.13,189.30 444.82,189.95 445.51,190.63 446.20,191.36 446.89,192.12 447.58,192.93 448.27,193.79 448.96,194.70 449.65,195.66 450.34,196.66 451.03,197.73 451.72,198.84 452.41,200.02 453.10,201.25 453.79,202.54 454.48,203.89 455.17,205.30 455.86,206.77 456.55,208.31 457.24,209.91 457.93,211.57 458.62,213.29 459.31,215.08 460.00,216.92 460.69,218.82 461.38,220.78 462.07,222.79 462.76,224.86 463.45,226.97 464.14,229.12 464.83,231.32 465.52,233.55 466.21,235.82 466.90,238.11 467.59,240.42 468.28,242.75 468.97,245.10 469.66,247.44 470.35,249.79 471.04,252.14 471.73,254.47 472.42,256.78 473.11,259.08 473.80,261.34 474.49,263.58 475.18,265.78 475.87,267.94 476.56,270.05 477.25,272.12 477.94,274.14 478.63,276.10 479.32,278.01 480.01,279.86 480.70,281.64 481.39,283.37 482.08,285.04 482.77,286.64 483.46,288.18 484.15,289.66 484.84,291.08 485.53,292.44 486.22,293.73 486.91,294.97 487.60,296.15 488.29,297.27 488.98,298.33 489.67,299.34 490.36,300.31 491.05,301.22 491.74,302.08 492.43,302.89 493.12,303.66 493.81,304.39 494.50,305.08 495.19,305.73 495.88,306.34 496.57,306.92 497.26,307.46 497.95,307.97 498.64,308.45 499.33,308.90 500.02,309.32 500.71,309.72 501.40,310.10 502.09,310.45 502.78,310.77 503.47,311.08 504.16,311.37 504.85,311.64 505.54,311.90 506.23,312.14 506.92,312.36 507.61,312.57 508.30,312.76 508.99,312.94 509.68,313.12 510.37,313.28 511.06,313.43 511.75,313.57 512.44,313.70 513.13,313.82 513.82,313.93 514.51,314.04 515.20,314.14 515.89,314.23 516.58,314.32 517.27,314.40 517.96,314.48 518.65,314.55 519.34,314.62 520.03,314.68 520.72,314.74 521.41,314.79 522.10,314.84 522.79,314.89 523.48,314.93 524.17,314.97 524.86,315.01 525.55,315.05 526.24,315.08 526.93,315.11 527.62,315.14 528.31,315.17 529.00,315.20 529.69,315.22 530.38,315.24 531.07,315.26 531.76,315.28 532.45,315.30 533.14,315.32 533.83,315.33 534.52,315.35 535.21,315.36 535.90,315.37 536.59,315.39 537.28,315.40 537.97,315.41 538.66,315.42 539.35,315.43 540.04,315.43 540.73,315.44 541.42,315.45 542.11,315.46 542.80,315.46 543.49,315.47 544.18,315.48 544.87,315.48 545.56,315.49 546.25,315.49 546.94,315.49 547.63,315.50 548.32,315.50 549.01,315.51 549.70,315.51 550.39,315.51 551.08,315.51 551.77,315.52 552.46,315.52 553.15,315.52 553.84,315.52 554.53,315.53 555.22,315.53 555.91,315.53 556.60,315.53 557.29,315.53 557.98,315.53 558.67,315.54 559.36,315.54 560.05,315.54 560.74,315.54 561.43,315.54 562.12,315.54 562.81,315.54 563.50,315.54 564.19,315.54 564.88,315.54 565.57,315.54 566.26,315.54 566.95,315.55 567.64,315.55 568.33,315.55 569.02,315.55 569.71,315.55 570.40,315.55 571.09,315.55 571.78,315.55 572.47,315.55 573.16,315.55 573.85,315.55 574.54,315.55 575.23,315.55 575.92,315.55 576.61,315.55 577.30,315.55 577.99,315.55 578.68,315.55 579.37,315.55 580.06,315.55 580.75,315.55 581.44,315.55 582.13,315.55 582.82,315.55" fill="none" stroke="#000" stroke-width="1.1" stroke-linejoin="miter"/>
<line x1="437.92" y1="188.14" x2="437.92" y2="193.44" stroke="#cfcfcf" stroke-width="1.1" stroke-linecap="butt"/>
<line x1="434.92" y1="188.14" x2="440.92" y2="188.14" stroke="#cfcfcf" stroke-width="1.1" stroke-linecap="butt"/>
<line x1="434.92" y1="193.44" x2="440.92" y2="193.44" stroke="#cfcfcf" stroke-width="1.1" stroke-linecap="butt"/>
<line x1="458.69" y1="191.84" x2="458.69" y2="209.07" stroke="#cfcfcf" stroke-width="1.1" stroke-linecap="butt"/>
<line x1="455.69" y1="191.84" x2="461.69" y2="191.84" stroke="#cfcfcf" stroke-width="1.1" stroke-linecap="butt"/>
<line x1="455.69" y1="209.07" x2="461.69" y2="209.07" stroke="#cfcfcf" stroke-width="1.1" stroke-linecap="butt"/>
<line x1="479.46" y1="248.46" x2="479.46" y2="298.94" stroke="#cfcfcf" stroke-width="1.1" stroke-linecap="butt"/>
<line x1="476.46" y1="248.46" x2="482.46" y2="248.46" stroke="#cfcfcf" stroke-width="1.1" stroke-linecap="butt"/>
<line x1="476.46" y1="298.94" x2="482.46" y2="298.94" stroke="#cfcfcf" stroke-width="1.1" stroke-linecap="butt"/>
<circle cx="437.92" cy="191.22" r="3.0" fill="#c8c8c8"/>
<circle cx="458.69" cy="200.45" r="3.0" fill="#c8c8c8"/>
<circle cx="479.46" cy="275.55" r="3.0" fill="#c8c8c8"/>
<circle cx="500.23" cy="311.25" r="3.0" fill="#c8c8c8"/>
<circle cx="521.01" cy="314.94" r="3.0" fill="#c8c8c8"/>
<circle cx="541.78" cy="314.94" r="3.0" fill="#c8c8c8"/>
<circle cx="562.55" cy="316.17" r="3.0" fill="#c8c8c8"/>
<circle cx="583.32" cy="314.94" r="3.0" fill="#c8c8c8"/>
<line x1="437.92" y1="189.38" x2="437.92" y2="209.07" stroke="#888" stroke-width="1.1" stroke-linecap="butt"/>
<line x1="434.92" y1="189.38" x2="440.92" y2="189.38" stroke="#888" stroke-width="1.1" stroke-linecap="butt"/>
<line x1="434.92" y1="209.07" x2="440.92" y2="209.07" stroke="#888" stroke-width="1.1" stroke-linecap="butt"/>
<line x1="458.69" y1="185.68" x2="458.69" y2="254.13" stroke="#888" stroke-width="1.1" stroke-linecap="butt"/>
<line x1="455.69" y1="185.68" x2="461.69" y2="185.68" stroke="#888" stroke-width="1.1" stroke-linecap="butt"/>
<line x1="455.69" y1="254.13" x2="461.69" y2="254.13" stroke="#888" stroke-width="1.1" stroke-linecap="butt"/>
<line x1="479.46" y1="276.78" x2="479.46" y2="296.47" stroke="#888" stroke-width="1.1" stroke-linecap="butt"/>
<line x1="476.46" y1="276.78" x2="482.46" y2="276.78" stroke="#888" stroke-width="1.1" stroke-linecap="butt"/>
<line x1="476.46" y1="296.47" x2="482.46" y2="296.47" stroke="#888" stroke-width="1.1" stroke-linecap="butt"/>
<line x1="583.32" y1="308.41" x2="583.32" y2="311.86" stroke="#888" stroke-width="1.1" stroke-linecap="butt"/>
<line x1="580.32" y1="308.41" x2="586.32" y2="308.41" stroke="#888" stroke-width="1.1" stroke-linecap="butt"/>
<line x1="580.32" y1="311.86" x2="586.32" y2="311.86" stroke="#888" stroke-width="1.1" stroke-linecap="butt"/>
<rect x="435.02" y="195.95" width="5.80" height="5.80" fill="#7f7f7f"/>
<rect x="455.79" y="197.68" width="5.80" height="5.80" fill="#7f7f7f"/>
<rect x="476.56" y="283.85" width="5.80" height="5.80" fill="#7f7f7f"/>
<rect x="497.33" y="307.36" width="5.80" height="5.80" fill="#7f7f7f"/>
<rect x="518.11" y="308.96" width="5.80" height="5.80" fill="#7f7f7f"/>
<rect x="538.88" y="308.47" width="5.80" height="5.80" fill="#7f7f7f"/>
<rect x="559.65" y="308.96" width="5.80" height="5.80" fill="#7f7f7f"/>
<rect x="580.42" y="307.24" width="5.80" height="5.80" fill="#7f7f7f"/>
<line x1="437.92" y1="184.45" x2="437.92" y2="221.38" stroke="#000" stroke-width="1.1" stroke-linecap="butt"/>
<line x1="434.92" y1="184.45" x2="440.92" y2="184.45" stroke="#000" stroke-width="1.1" stroke-linecap="butt"/>
<line x1="434.92" y1="221.38" x2="440.92" y2="221.38" stroke="#000" stroke-width="1.1" stroke-linecap="butt"/>
<line x1="479.46" y1="297.33" x2="479.46" y2="313.34" stroke="#000" stroke-width="1.1" stroke-linecap="butt"/>
<line x1="476.46" y1="297.33" x2="482.46" y2="297.33" stroke="#000" stroke-width="1.1" stroke-linecap="butt"/>
<line x1="476.46" y1="313.34" x2="482.46" y2="313.34" stroke="#000" stroke-width="1.1" stroke-linecap="butt"/>
<line x1="583.32" y1="311.25" x2="583.32" y2="316.17" stroke="#000" stroke-width="1.1" stroke-linecap="butt"/>
<line x1="580.32" y1="311.25" x2="586.32" y2="311.25" stroke="#000" stroke-width="1.1" stroke-linecap="butt"/>
<line x1="580.32" y1="316.17" x2="586.32" y2="316.17" stroke="#000" stroke-width="1.1" stroke-linecap="butt"/>
<circle cx="437.92" cy="202.55" r="3.0" fill="#000"/>
<circle cx="458.69" cy="219.66" r="3.0" fill="#000"/>
<circle cx="479.46" cy="305.71" r="3.0" fill="#000"/>
<circle cx="500.23" cy="312.85" r="3.0" fill="#000"/>
<circle cx="521.01" cy="315.43" r="3.0" fill="#000"/>
<circle cx="541.78" cy="316.29" r="3.0" fill="#000"/>
<circle cx="562.55" cy="316.29" r="3.0" fill="#000"/>
<circle cx="583.32" cy="313.71" r="3.0" fill="#000"/>
<line x1="405.00" y1="169.30" x2="405.00" y2="318.30" stroke="#000" stroke-width="1.9" stroke-linecap="butt"/>
<line x1="398.80" y1="317.40" x2="405.00" y2="317.40" stroke="#000" stroke-width="1.6" stroke-linecap="butt"/>
<text x="397.80" y="321.10" font-size="10.5" font-weight="bold" text-anchor="end" fill="#000" >0</text>
<line x1="398.80" y1="255.85" x2="405.00" y2="255.85" stroke="#000" stroke-width="1.6" stroke-linecap="butt"/>
<text x="397.80" y="259.55" font-size="10.5" font-weight="bold" text-anchor="end" fill="#000" >50</text>
<line x1="398.80" y1="194.30" x2="405.00" y2="194.30" stroke="#000" stroke-width="1.6" stroke-linecap="butt"/>
<text x="397.80" y="198.00" font-size="10.5" font-weight="bold" text-anchor="end" fill="#000" >100</text>
<line x1="404.00" y1="317.40" x2="612.00" y2="317.40" stroke="#000" stroke-width="1.8" stroke-linecap="butt"/>
<line x1="405.00" y1="317.40" x2="405.00" y2="322.60" stroke="#000" stroke-width="1.6" stroke-linecap="butt"/>
<text x="405.00" y="335.80" font-size="10.6" font-weight="bold" text-anchor="middle" fill="#000" >0.1</text>
<line x1="415.39" y1="317.40" x2="415.39" y2="320.40" stroke="#000" stroke-width="1.1" stroke-linecap="butt"/>
<line x1="421.46" y1="317.40" x2="421.46" y2="320.40" stroke="#000" stroke-width="1.1" stroke-linecap="butt"/>
<line x1="425.77" y1="317.40" x2="425.77" y2="320.40" stroke="#000" stroke-width="1.1" stroke-linecap="butt"/>
<line x1="429.11" y1="317.40" x2="429.11" y2="320.40" stroke="#000" stroke-width="1.1" stroke-linecap="butt"/>
<line x1="431.85" y1="317.40" x2="431.85" y2="320.40" stroke="#000" stroke-width="1.1" stroke-linecap="butt"/>
<line x1="434.16" y1="317.40" x2="434.16" y2="320.40" stroke="#000" stroke-width="1.1" stroke-linecap="butt"/>
<line x1="436.16" y1="317.40" x2="436.16" y2="320.40" stroke="#000" stroke-width="1.1" stroke-linecap="butt"/>
<line x1="437.92" y1="317.40" x2="437.92" y2="320.40" stroke="#000" stroke-width="1.1" stroke-linecap="butt"/>
<line x1="439.50" y1="317.40" x2="439.50" y2="322.60" stroke="#000" stroke-width="1.6" stroke-linecap="butt"/>
<text x="439.50" y="335.80" font-size="10.6" font-weight="bold" text-anchor="middle" fill="#000" >1</text>
<line x1="449.89" y1="317.40" x2="449.89" y2="320.40" stroke="#000" stroke-width="1.1" stroke-linecap="butt"/>
<line x1="455.96" y1="317.40" x2="455.96" y2="320.40" stroke="#000" stroke-width="1.1" stroke-linecap="butt"/>
<line x1="460.27" y1="317.40" x2="460.27" y2="320.40" stroke="#000" stroke-width="1.1" stroke-linecap="butt"/>
<line x1="463.61" y1="317.40" x2="463.61" y2="320.40" stroke="#000" stroke-width="1.1" stroke-linecap="butt"/>
<line x1="466.35" y1="317.40" x2="466.35" y2="320.40" stroke="#000" stroke-width="1.1" stroke-linecap="butt"/>
<line x1="468.66" y1="317.40" x2="468.66" y2="320.40" stroke="#000" stroke-width="1.1" stroke-linecap="butt"/>
<line x1="470.66" y1="317.40" x2="470.66" y2="320.40" stroke="#000" stroke-width="1.1" stroke-linecap="butt"/>
<line x1="472.42" y1="317.40" x2="472.42" y2="320.40" stroke="#000" stroke-width="1.1" stroke-linecap="butt"/>
<line x1="474.00" y1="317.40" x2="474.00" y2="322.60" stroke="#000" stroke-width="1.6" stroke-linecap="butt"/>
<text x="474.00" y="335.80" font-size="10.6" font-weight="bold" text-anchor="middle" fill="#000" >10</text>
<line x1="484.39" y1="317.40" x2="484.39" y2="320.40" stroke="#000" stroke-width="1.1" stroke-linecap="butt"/>
<line x1="490.46" y1="317.40" x2="490.46" y2="320.40" stroke="#000" stroke-width="1.1" stroke-linecap="butt"/>
<line x1="494.77" y1="317.40" x2="494.77" y2="320.40" stroke="#000" stroke-width="1.1" stroke-linecap="butt"/>
<line x1="498.11" y1="317.40" x2="498.11" y2="320.40" stroke="#000" stroke-width="1.1" stroke-linecap="butt"/>
<line x1="500.85" y1="317.40" x2="500.85" y2="320.40" stroke="#000" stroke-width="1.1" stroke-linecap="butt"/>
<line x1="503.16" y1="317.40" x2="503.16" y2="320.40" stroke="#000" stroke-width="1.1" stroke-linecap="butt"/>
<line x1="505.16" y1="317.40" x2="505.16" y2="320.40" stroke="#000" stroke-width="1.1" stroke-linecap="butt"/>
<line x1="506.92" y1="317.40" x2="506.92" y2="320.40" stroke="#000" stroke-width="1.1" stroke-linecap="butt"/>
<line x1="508.50" y1="317.40" x2="508.50" y2="322.60" stroke="#000" stroke-width="1.6" stroke-linecap="butt"/>
<text x="508.50" y="335.80" font-size="10.6" font-weight="bold" text-anchor="middle" fill="#000" >100</text>
<line x1="518.89" y1="317.40" x2="518.89" y2="320.40" stroke="#000" stroke-width="1.1" stroke-linecap="butt"/>
<line x1="524.96" y1="317.40" x2="524.96" y2="320.40" stroke="#000" stroke-width="1.1" stroke-linecap="butt"/>
<line x1="529.27" y1="317.40" x2="529.27" y2="320.40" stroke="#000" stroke-width="1.1" stroke-linecap="butt"/>
<line x1="532.61" y1="317.40" x2="532.61" y2="320.40" stroke="#000" stroke-width="1.1" stroke-linecap="butt"/>
<line x1="535.35" y1="317.40" x2="535.35" y2="320.40" stroke="#000" stroke-width="1.1" stroke-linecap="butt"/>
<line x1="537.66" y1="317.40" x2="537.66" y2="320.40" stroke="#000" stroke-width="1.1" stroke-linecap="butt"/>
<line x1="539.66" y1="317.40" x2="539.66" y2="320.40" stroke="#000" stroke-width="1.1" stroke-linecap="butt"/>
<line x1="541.42" y1="317.40" x2="541.42" y2="320.40" stroke="#000" stroke-width="1.1" stroke-linecap="butt"/>
<line x1="543.00" y1="317.40" x2="543.00" y2="322.60" stroke="#000" stroke-width="1.6" stroke-linecap="butt"/>
<text x="543.00" y="335.80" font-size="10.6" font-weight="bold" text-anchor="middle" fill="#000" >1000</text>
<line x1="553.39" y1="317.40" x2="553.39" y2="320.40" stroke="#000" stroke-width="1.1" stroke-linecap="butt"/>
<line x1="559.46" y1="317.40" x2="559.46" y2="320.40" stroke="#000" stroke-width="1.1" stroke-linecap="butt"/>
<line x1="563.77" y1="317.40" x2="563.77" y2="320.40" stroke="#000" stroke-width="1.1" stroke-linecap="butt"/>
<line x1="567.11" y1="317.40" x2="567.11" y2="320.40" stroke="#000" stroke-width="1.1" stroke-linecap="butt"/>
<line x1="569.85" y1="317.40" x2="569.85" y2="320.40" stroke="#000" stroke-width="1.1" stroke-linecap="butt"/>
<line x1="572.16" y1="317.40" x2="572.16" y2="320.40" stroke="#000" stroke-width="1.1" stroke-linecap="butt"/>
<line x1="574.16" y1="317.40" x2="574.16" y2="320.40" stroke="#000" stroke-width="1.1" stroke-linecap="butt"/>
<line x1="575.92" y1="317.40" x2="575.92" y2="320.40" stroke="#000" stroke-width="1.1" stroke-linecap="butt"/>
<line x1="577.50" y1="317.40" x2="577.50" y2="322.60" stroke="#000" stroke-width="1.6" stroke-linecap="butt"/>
<text x="577.50" y="335.80" font-size="10.6" font-weight="bold" text-anchor="middle" fill="#000" >10000</text>
<line x1="587.89" y1="317.40" x2="587.89" y2="320.40" stroke="#000" stroke-width="1.1" stroke-linecap="butt"/>
<line x1="593.96" y1="317.40" x2="593.96" y2="320.40" stroke="#000" stroke-width="1.1" stroke-linecap="butt"/>
<line x1="598.27" y1="317.40" x2="598.27" y2="320.40" stroke="#000" stroke-width="1.1" stroke-linecap="butt"/>
<line x1="601.61" y1="317.40" x2="601.61" y2="320.40" stroke="#000" stroke-width="1.1" stroke-linecap="butt"/>
<line x1="604.35" y1="317.40" x2="604.35" y2="320.40" stroke="#000" stroke-width="1.1" stroke-linecap="butt"/>
<line x1="606.66" y1="317.40" x2="606.66" y2="320.40" stroke="#000" stroke-width="1.1" stroke-linecap="butt"/>
<line x1="608.66" y1="317.40" x2="608.66" y2="320.40" stroke="#000" stroke-width="1.1" stroke-linecap="butt"/>
<line x1="610.42" y1="317.40" x2="610.42" y2="320.40" stroke="#000" stroke-width="1.1" stroke-linecap="butt"/>
<line x1="612.00" y1="317.40" x2="612.00" y2="322.60" stroke="#000" stroke-width="1.6" stroke-linecap="butt"/>
<text x="612.00" y="335.80" font-size="10.6" font-weight="bold" text-anchor="middle" fill="#000" >100000</text>
<text x="373.50" y="243.40" font-size="12.2" font-weight="bold" text-anchor="middle" fill="#000" transform="rotate(-90 373.5 243.4)">% viability</text>
<text x="509.50" y="354.20" font-size="11.6" font-weight="bold" text-anchor="middle" fill="#000" >nM</text>
<line x1="201.20" y1="180.30" x2="216.60" y2="180.30" stroke="#000" stroke-width="1.1" stroke-linecap="butt"/>
<circle cx="208.90" cy="180.30" r="2.6" fill="#000"/>
<text x="226.40" y="184.90" font-size="12.2" fill="#111">Pancpec</text>
<line x1="201.20" y1="200.20" x2="216.60" y2="200.20" stroke="#888" stroke-width="1.1" stroke-linecap="butt"/>
<rect x="206.60" y="197.90" width="4.60" height="4.60" fill="#3c3c3c"/>
<text x="226.40" y="204.30" font-size="12.2" fill="#111">Pancpec + iCAF3</text>
<line x1="560.30" y1="180.40" x2="575.20" y2="180.40" stroke="#000" stroke-width="1.1" stroke-linecap="butt"/>
<circle cx="567.75" cy="180.40" r="2.6" fill="#000"/>
<text x="583.80" y="183.90" font-size="11.5" fill="#111">MIA PaCa-2 FR</text>
<line x1="560.30" y1="199.90" x2="575.20" y2="199.90" stroke="#7f7f7f" stroke-width="1.1" stroke-linecap="butt"/>
<rect x="565.35" y="197.50" width="4.80" height="4.80" fill="#7f7f7f"/>
<text x="583.80" y="203.50" font-size="11.5" fill="#111">MIA PaCa-2 GR</text>
<line x1="560.30" y1="219.70" x2="575.20" y2="219.70" stroke="#c8c8c8" stroke-width="1.1" stroke-linecap="butt"/>
<circle cx="567.75" cy="219.70" r="2.6" fill="#c8c8c8"/>
<text x="583.80" y="222.90" font-size="11.5" fill="#111">MIA PaCa-2</text>
<text x="9.90" y="492.70" font-size="19.5" font-weight="normal" text-anchor="start" fill="#000" >D</text>
<text x="41.00" y="487.00" font-size="15" font-weight="normal" text-anchor="start" fill="#000" font-style="italic" textLength="52" lengthAdjust="spacingAndGlyphs" >Pancpec</text>
<text x="11.40" y="733.80" font-size="19.5" font-weight="normal" text-anchor="start" fill="#000" textLength="10.8" lengthAdjust="spacingAndGlyphs" >E</text>
<text x="40.30" y="730.30" font-size="15" font-weight="normal" text-anchor="start" fill="#000" font-style="italic" textLength="39.3" lengthAdjust="spacingAndGlyphs" >P4604</text>
<line x1="41.90" y1="514.40" x2="54.10" y2="514.40" stroke="#000" stroke-width="1.1" stroke-linecap="butt"/>
<circle cx="48.00" cy="514.40" r="2.3" fill="#000"/>
<text x="61.10" y="517.70" font-size="10" fill="#222" textLength="30.96" lengthAdjust="spacingAndGlyphs">Vehicle</text>
<line x1="41.90" y1="533.20" x2="54.10" y2="533.20" stroke="#777" stroke-width="1.1" stroke-linecap="butt" stroke-dasharray="1,1.6"/>
<rect x="45.55" y="530.75" width="4.90" height="4.90" fill="#666"/>
<text x="61.10" y="536.70" font-size="10" fill="#222" textLength="86.45" lengthAdjust="spacingAndGlyphs">EAPB02303 3mg/kg</text>
<line x1="171.20" y1="517.70" x2="183.50" y2="517.70" stroke="#d0d0d0" stroke-width="1.1" stroke-linecap="butt"/>
<polygon points="177.35,515.06 179.88,519.43 174.82,519.43" fill="#d0d0d0"/>
<text x="190.70" y="521.30" font-size="10" fill="#222" textLength="91.79" lengthAdjust="spacingAndGlyphs">EAPB02303 10mg/kg</text>
<line x1="171.20" y1="534.60" x2="183.50" y2="534.60" stroke="#666" stroke-width="1.1" stroke-linecap="butt" stroke-dasharray="3,2"/>
<polygon points="177.35,537.25 179.88,532.88 174.82,532.88" fill="#666"/>
<text x="190.70" y="538.10" font-size="10" fill="#222" textLength="91.79" lengthAdjust="spacingAndGlyphs">EAPB02303 30mg/kg</text>
<line x1="47.40" y1="557.11" x2="47.40" y2="671.30" stroke="#000" stroke-width="1.4" stroke-linecap="butt"/>
<line x1="44.90" y1="670.60" x2="47.40" y2="670.60" stroke="#000" stroke-width="1.1" stroke-linecap="butt"/>
<line x1="44.90" y1="666.24" x2="47.40" y2="666.24" stroke="#000" stroke-width="1.1" stroke-linecap="butt"/>
<line x1="44.90" y1="661.87" x2="47.40" y2="661.87" stroke="#000" stroke-width="1.1" stroke-linecap="butt"/>
<line x1="44.90" y1="657.50" x2="47.40" y2="657.50" stroke="#000" stroke-width="1.1" stroke-linecap="butt"/>
<line x1="44.90" y1="653.14" x2="47.40" y2="653.14" stroke="#000" stroke-width="1.1" stroke-linecap="butt"/>
<line x1="44.90" y1="648.77" x2="47.40" y2="648.77" stroke="#000" stroke-width="1.1" stroke-linecap="butt"/>
<line x1="44.90" y1="644.41" x2="47.40" y2="644.41" stroke="#000" stroke-width="1.1" stroke-linecap="butt"/>
<line x1="44.90" y1="640.05" x2="47.40" y2="640.05" stroke="#000" stroke-width="1.1" stroke-linecap="butt"/>
<line x1="44.90" y1="635.68" x2="47.40" y2="635.68" stroke="#000" stroke-width="1.1" stroke-linecap="butt"/>
<line x1="44.90" y1="631.32" x2="47.40" y2="631.32" stroke="#000" stroke-width="1.1" stroke-linecap="butt"/>
<line x1="44.90" y1="626.95" x2="47.40" y2="626.95" stroke="#000" stroke-width="1.1" stroke-linecap="butt"/>
<line x1="44.90" y1="622.59" x2="47.40" y2="622.59" stroke="#000" stroke-width="1.1" stroke-linecap="butt"/>
<line x1="44.90" y1="618.22" x2="47.40" y2="618.22" stroke="#000" stroke-width="1.1" stroke-linecap="butt"/>
<line x1="44.90" y1="613.86" x2="47.40" y2="613.86" stroke="#000" stroke-width="1.1" stroke-linecap="butt"/>
<line x1="44.90" y1="609.49" x2="47.40" y2="609.49" stroke="#000" stroke-width="1.1" stroke-linecap="butt"/>
<line x1="44.90" y1="605.12" x2="47.40" y2="605.12" stroke="#000" stroke-width="1.1" stroke-linecap="butt"/>
<line x1="44.90" y1="600.76" x2="47.40" y2="600.76" stroke="#000" stroke-width="1.1" stroke-linecap="butt"/>
<line x1="44.90" y1="596.39" x2="47.40" y2="596.39" stroke="#000" stroke-width="1.1" stroke-linecap="butt"/>
<line x1="44.90" y1="592.03" x2="47.40" y2="592.03" stroke="#000" stroke-width="1.1" stroke-linecap="butt"/>
<line x1="44.90" y1="587.66" x2="47.40" y2="587.66" stroke="#000" stroke-width="1.1" stroke-linecap="butt"/>
<line x1="44.90" y1="583.30" x2="47.40" y2="583.30" stroke="#000" stroke-width="1.1" stroke-linecap="butt"/>
<line x1="44.90" y1="578.94" x2="47.40" y2="578.94" stroke="#000" stroke-width="1.1" stroke-linecap="butt"/>
<line x1="44.90" y1="574.57" x2="47.40" y2="574.57" stroke="#000" stroke-width="1.1" stroke-linecap="butt"/>
<line x1="44.90" y1="570.21" x2="47.40" y2="570.21" stroke="#000" stroke-width="1.1" stroke-linecap="butt"/>
<line x1="44.90" y1="565.84" x2="47.40" y2="565.84" stroke="#000" stroke-width="1.1" stroke-linecap="butt"/>
<line x1="44.90" y1="561.48" x2="47.40" y2="561.48" stroke="#000" stroke-width="1.1" stroke-linecap="butt"/>
<line x1="44.90" y1="557.11" x2="47.40" y2="557.11" stroke="#000" stroke-width="1.1" stroke-linecap="butt"/>
<line x1="43.10" y1="670.60" x2="47.40" y2="670.60" stroke="#000" stroke-width="1.2" stroke-linecap="butt"/>
<text x="41.50" y="673.50" font-size="8.4" font-weight="bold" text-anchor="end" fill="#000" >0</text>
<line x1="43.10" y1="626.95" x2="47.40" y2="626.95" stroke="#000" stroke-width="1.2" stroke-linecap="butt"/>
<text x="41.50" y="629.85" font-size="8.4" font-weight="bold" text-anchor="end" fill="#000" >500</text>
<line x1="43.10" y1="583.30" x2="47.40" y2="583.30" stroke="#000" stroke-width="1.2" stroke-linecap="butt"/>
<text x="41.50" y="586.20" font-size="8.4" font-weight="bold" text-anchor="end" fill="#000" >1000</text>
<line x1="46.70" y1="670.60" x2="217.50" y2="670.60" stroke="#000" stroke-width="1.4" stroke-linecap="butt"/>
<line x1="47.40" y1="670.60" x2="47.40" y2="673.10" stroke="#000" stroke-width="1.1" stroke-linecap="butt"/>
<line x1="58.74" y1="670.60" x2="58.74" y2="673.10" stroke="#000" stroke-width="1.1" stroke-linecap="butt"/>
<line x1="70.08" y1="670.60" x2="70.08" y2="673.10" stroke="#000" stroke-width="1.1" stroke-linecap="butt"/>
<line x1="81.42" y1="670.60" x2="81.42" y2="673.10" stroke="#000" stroke-width="1.1" stroke-linecap="butt"/>
<line x1="92.76" y1="670.60" x2="92.76" y2="673.10" stroke="#000" stroke-width="1.1" stroke-linecap="butt"/>
<line x1="104.10" y1="670.60" x2="104.10" y2="673.10" stroke="#000" stroke-width="1.1" stroke-linecap="butt"/>
<line x1="115.44" y1="670.60" x2="115.44" y2="673.10" stroke="#000" stroke-width="1.1" stroke-linecap="butt"/>
<line x1="126.78" y1="670.60" x2="126.78" y2="673.10" stroke="#000" stroke-width="1.1" stroke-linecap="butt"/>
<line x1="138.12" y1="670.60" x2="138.12" y2="673.10" stroke="#000" stroke-width="1.1" stroke-linecap="butt"/>
<line x1="149.46" y1="670.60" x2="149.46" y2="673.10" stroke="#000" stroke-width="1.1" stroke-linecap="butt"/>
<line x1="160.80" y1="670.60" x2="160.80" y2="673.10" stroke="#000" stroke-width="1.1" stroke-linecap="butt"/>
<line x1="172.14" y1="670.60" x2="172.14" y2="673.10" stroke="#000" stroke-width="1.1" stroke-linecap="butt"/>
<line x1="183.48" y1="670.60" x2="183.48" y2="673.10" stroke="#000" stroke-width="1.1" stroke-linecap="butt"/>
<line x1="194.82" y1="670.60" x2="194.82" y2="673.10" stroke="#000" stroke-width="1.1" stroke-linecap="butt"/>
<line x1="206.16" y1="670.60" x2="206.16" y2="673.10" stroke="#000" stroke-width="1.1" stroke-linecap="butt"/>
<line x1="217.50" y1="670.60" x2="217.50" y2="673.10" stroke="#000" stroke-width="1.1" stroke-linecap="butt"/>
<line x1="47.40" y1="670.60" x2="47.40" y2="674.90" stroke="#000" stroke-width="1.2" stroke-linecap="butt"/>
<text x="47.40" y="684.90" font-size="8.4" font-weight="bold" text-anchor="middle" fill="#000" >0</text>
<line x1="104.10" y1="670.60" x2="104.10" y2="674.90" stroke="#000" stroke-width="1.2" stroke-linecap="butt"/>
<text x="104.10" y="684.90" font-size="8.4" font-weight="bold" text-anchor="middle" fill="#000" >10</text>
<line x1="160.80" y1="670.60" x2="160.80" y2="674.90" stroke="#000" stroke-width="1.2" stroke-linecap="butt"/>
<text x="160.80" y="684.90" font-size="8.4" font-weight="bold" text-anchor="middle" fill="#000" >20</text>
<line x1="217.50" y1="670.60" x2="217.50" y2="674.90" stroke="#000" stroke-width="1.2" stroke-linecap="butt"/>
<text x="217.50" y="684.90" font-size="8.4" font-weight="bold" text-anchor="middle" fill="#000" >30</text>
<polyline points="53.07,661.00 64.41,651.83 87.09,640.92 104.10,631.32 126.78,614.73 143.79,593.78 166.47,579.81" fill="none" stroke="#d0d0d0" stroke-width="1.0" stroke-linejoin="miter"/>
<line x1="53.07" y1="660.12" x2="53.07" y2="661.87" stroke="#d0d0d0" stroke-width="0.9" stroke-linecap="butt"/>
<line x1="51.07" y1="660.12" x2="55.07" y2="660.12" stroke="#d0d0d0" stroke-width="0.9" stroke-linecap="butt"/>
<line x1="51.07" y1="661.87" x2="55.07" y2="661.87" stroke="#d0d0d0" stroke-width="0.9" stroke-linecap="butt"/>
<line x1="64.41" y1="650.08" x2="64.41" y2="653.14" stroke="#d0d0d0" stroke-width="0.9" stroke-linecap="butt"/>
<line x1="62.41" y1="650.08" x2="66.41" y2="650.08" stroke="#d0d0d0" stroke-width="0.9" stroke-linecap="butt"/>
<line x1="62.41" y1="653.14" x2="66.41" y2="653.14" stroke="#d0d0d0" stroke-width="0.9" stroke-linecap="butt"/>
<line x1="87.09" y1="638.30" x2="87.09" y2="643.54" stroke="#d0d0d0" stroke-width="0.9" stroke-linecap="butt"/>
<line x1="85.09" y1="638.30" x2="89.09" y2="638.30" stroke="#d0d0d0" stroke-width="0.9" stroke-linecap="butt"/>
<line x1="85.09" y1="643.54" x2="89.09" y2="643.54" stroke="#d0d0d0" stroke-width="0.9" stroke-linecap="butt"/>
<line x1="104.10" y1="627.82" x2="104.10" y2="634.81" stroke="#d0d0d0" stroke-width="0.9" stroke-linecap="butt"/>
<line x1="102.10" y1="627.82" x2="106.10" y2="627.82" stroke="#d0d0d0" stroke-width="0.9" stroke-linecap="butt"/>
<line x1="102.10" y1="634.81" x2="106.10" y2="634.81" stroke="#d0d0d0" stroke-width="0.9" stroke-linecap="butt"/>
<line x1="126.78" y1="609.49" x2="126.78" y2="619.09" stroke="#d0d0d0" stroke-width="0.9" stroke-linecap="butt"/>
<line x1="124.78" y1="609.49" x2="128.78" y2="609.49" stroke="#d0d0d0" stroke-width="0.9" stroke-linecap="butt"/>
<line x1="124.78" y1="619.09" x2="128.78" y2="619.09" stroke="#d0d0d0" stroke-width="0.9" stroke-linecap="butt"/>
<line x1="143.79" y1="586.79" x2="143.79" y2="600.76" stroke="#d0d0d0" stroke-width="0.9" stroke-linecap="butt"/>
<line x1="141.79" y1="586.79" x2="145.79" y2="586.79" stroke="#d0d0d0" stroke-width="0.9" stroke-linecap="butt"/>
<line x1="141.79" y1="600.76" x2="145.79" y2="600.76" stroke="#d0d0d0" stroke-width="0.9" stroke-linecap="butt"/>
<line x1="166.47" y1="567.59" x2="166.47" y2="592.03" stroke="#d0d0d0" stroke-width="0.9" stroke-linecap="butt"/>
<line x1="164.47" y1="567.59" x2="168.47" y2="567.59" stroke="#d0d0d0" stroke-width="0.9" stroke-linecap="butt"/>
<line x1="164.47" y1="592.03" x2="168.47" y2="592.03" stroke="#d0d0d0" stroke-width="0.9" stroke-linecap="butt"/>
<polygon points="53.07,657.89 56.04,663.02 50.10,663.02" fill="#d0d0d0"/>
<polygon points="64.41,648.73 67.38,653.86 61.44,653.86" fill="#d0d0d0"/>
<polygon points="87.09,637.81 90.06,642.94 84.12,642.94" fill="#d0d0d0"/>
<polygon points="104.10,628.21 107.07,633.34 101.13,633.34" fill="#d0d0d0"/>
<polygon points="126.78,611.62 129.75,616.75 123.81,616.75" fill="#d0d0d0"/>
<polygon points="143.79,590.67 146.76,595.80 140.82,595.80" fill="#d0d0d0"/>
<polygon points="166.47,576.70 169.44,581.83 163.50,581.83" fill="#d0d0d0"/>
<polyline points="53.07,661.00 64.41,652.27 87.09,643.54 104.10,637.86 126.78,630.09 143.79,621.89 166.47,611.67 183.48,597.97" fill="none" stroke="#6a6a6a" stroke-width="1.2" stroke-linejoin="miter" stroke-dasharray="4,2.5"/>
<line x1="53.07" y1="660.12" x2="53.07" y2="661.87" stroke="#777" stroke-width="0.9" stroke-linecap="butt"/>
<line x1="51.07" y1="660.12" x2="55.07" y2="660.12" stroke="#777" stroke-width="0.9" stroke-linecap="butt"/>
<line x1="51.07" y1="661.87" x2="55.07" y2="661.87" stroke="#777" stroke-width="0.9" stroke-linecap="butt"/>
<line x1="64.41" y1="650.96" x2="64.41" y2="653.58" stroke="#777" stroke-width="0.9" stroke-linecap="butt"/>
<line x1="62.41" y1="650.96" x2="66.41" y2="650.96" stroke="#777" stroke-width="0.9" stroke-linecap="butt"/>
<line x1="62.41" y1="653.58" x2="66.41" y2="653.58" stroke="#777" stroke-width="0.9" stroke-linecap="butt"/>
<line x1="87.09" y1="640.92" x2="87.09" y2="646.16" stroke="#777" stroke-width="0.9" stroke-linecap="butt"/>
<line x1="85.09" y1="640.92" x2="89.09" y2="640.92" stroke="#777" stroke-width="0.9" stroke-linecap="butt"/>
<line x1="85.09" y1="646.16" x2="89.09" y2="646.16" stroke="#777" stroke-width="0.9" stroke-linecap="butt"/>
<line x1="104.10" y1="634.37" x2="104.10" y2="641.35" stroke="#777" stroke-width="0.9" stroke-linecap="butt"/>
<line x1="102.10" y1="634.37" x2="106.10" y2="634.37" stroke="#777" stroke-width="0.9" stroke-linecap="butt"/>
<line x1="102.10" y1="641.35" x2="106.10" y2="641.35" stroke="#777" stroke-width="0.9" stroke-linecap="butt"/>
<line x1="126.78" y1="624.59" x2="126.78" y2="636.90" stroke="#777" stroke-width="0.9" stroke-linecap="butt"/>
<line x1="124.78" y1="624.59" x2="128.78" y2="624.59" stroke="#777" stroke-width="0.9" stroke-linecap="butt"/>
<line x1="124.78" y1="636.90" x2="128.78" y2="636.90" stroke="#777" stroke-width="0.9" stroke-linecap="butt"/>
<line x1="143.79" y1="615.78" x2="143.79" y2="629.31" stroke="#777" stroke-width="0.9" stroke-linecap="butt"/>
<line x1="141.79" y1="615.78" x2="145.79" y2="615.78" stroke="#777" stroke-width="0.9" stroke-linecap="butt"/>
<line x1="141.79" y1="629.31" x2="145.79" y2="629.31" stroke="#777" stroke-width="0.9" stroke-linecap="butt"/>
<line x1="166.47" y1="604.60" x2="166.47" y2="620.49" stroke="#777" stroke-width="0.9" stroke-linecap="butt"/>
<line x1="164.47" y1="604.60" x2="168.47" y2="604.60" stroke="#777" stroke-width="0.9" stroke-linecap="butt"/>
<line x1="164.47" y1="620.49" x2="168.47" y2="620.49" stroke="#777" stroke-width="0.9" stroke-linecap="butt"/>
<line x1="183.48" y1="588.19" x2="183.48" y2="608.18" stroke="#777" stroke-width="0.9" stroke-linecap="butt"/>
<line x1="181.48" y1="588.19" x2="185.48" y2="588.19" stroke="#777" stroke-width="0.9" stroke-linecap="butt"/>
<line x1="181.48" y1="608.18" x2="185.48" y2="608.18" stroke="#777" stroke-width="0.9" stroke-linecap="butt"/>
<polygon points="53.07,664.10 56.04,658.97 50.10,658.97" fill="#6a6a6a"/>
<polygon points="64.41,655.37 67.38,650.24 61.44,650.24" fill="#6a6a6a"/>
<polygon points="87.09,646.64 90.06,641.51 84.12,641.51" fill="#6a6a6a"/>
<polygon points="104.10,640.97 107.07,635.84 101.13,635.84" fill="#6a6a6a"/>
<polygon points="126.78,633.20 129.75,628.07 123.81,628.07" fill="#6a6a6a"/>
<polygon points="143.79,624.99 146.76,619.86 140.82,619.86" fill="#6a6a6a"/>
<polygon points="166.47,614.78 169.44,609.65 163.50,609.65" fill="#6a6a6a"/>
<polygon points="183.48,601.07 186.45,595.94 180.51,595.94" fill="#6a6a6a"/>
<polyline points="53.07,661.00 64.41,650.96 87.09,639.61 104.10,630.27 126.78,613.42 143.79,599.97 166.47,574.13" fill="none" stroke="#6a6a6a" stroke-width="1.0" stroke-linejoin="miter" stroke-dasharray="1,1.8"/>
<line x1="53.07" y1="660.12" x2="53.07" y2="661.87" stroke="#777" stroke-width="0.9" stroke-linecap="butt"/>
<line x1="51.07" y1="660.12" x2="55.07" y2="660.12" stroke="#777" stroke-width="0.9" stroke-linecap="butt"/>
<line x1="51.07" y1="661.87" x2="55.07" y2="661.87" stroke="#777" stroke-width="0.9" stroke-linecap="butt"/>
<line x1="64.41" y1="649.21" x2="64.41" y2="652.70" stroke="#777" stroke-width="0.9" stroke-linecap="butt"/>
<line x1="62.41" y1="649.21" x2="66.41" y2="649.21" stroke="#777" stroke-width="0.9" stroke-linecap="butt"/>
<line x1="62.41" y1="652.70" x2="66.41" y2="652.70" stroke="#777" stroke-width="0.9" stroke-linecap="butt"/>
<line x1="87.09" y1="636.55" x2="87.09" y2="642.66" stroke="#777" stroke-width="0.9" stroke-linecap="butt"/>
<line x1="85.09" y1="636.55" x2="89.09" y2="636.55" stroke="#777" stroke-width="0.9" stroke-linecap="butt"/>
<line x1="85.09" y1="642.66" x2="89.09" y2="642.66" stroke="#777" stroke-width="0.9" stroke-linecap="butt"/>
<line x1="104.10" y1="625.20" x2="104.10" y2="634.81" stroke="#777" stroke-width="0.9" stroke-linecap="butt"/>
<line x1="102.10" y1="625.20" x2="106.10" y2="625.20" stroke="#777" stroke-width="0.9" stroke-linecap="butt"/>
<line x1="102.10" y1="634.81" x2="106.10" y2="634.81" stroke="#777" stroke-width="0.9" stroke-linecap="butt"/>
<line x1="126.78" y1="607.74" x2="126.78" y2="618.22" stroke="#777" stroke-width="0.9" stroke-linecap="butt"/>
<line x1="124.78" y1="607.74" x2="128.78" y2="607.74" stroke="#777" stroke-width="0.9" stroke-linecap="butt"/>
<line x1="124.78" y1="618.22" x2="128.78" y2="618.22" stroke="#777" stroke-width="0.9" stroke-linecap="butt"/>
<line x1="143.79" y1="592.03" x2="143.79" y2="608.62" stroke="#777" stroke-width="0.9" stroke-linecap="butt"/>
<line x1="141.79" y1="592.03" x2="145.79" y2="592.03" stroke="#777" stroke-width="0.9" stroke-linecap="butt"/>
<line x1="141.79" y1="608.62" x2="145.79" y2="608.62" stroke="#777" stroke-width="0.9" stroke-linecap="butt"/>
<line x1="166.47" y1="563.31" x2="166.47" y2="587.75" stroke="#777" stroke-width="0.9" stroke-linecap="butt"/>
<line x1="164.47" y1="563.31" x2="168.47" y2="563.31" stroke="#777" stroke-width="0.9" stroke-linecap="butt"/>
<line x1="164.47" y1="587.75" x2="168.47" y2="587.75" stroke="#777" stroke-width="0.9" stroke-linecap="butt"/>
<rect x="50.72" y="658.65" width="4.70" height="4.70" fill="#6a6a6a"/>
<rect x="62.06" y="648.61" width="4.70" height="4.70" fill="#6a6a6a"/>
<rect x="84.74" y="637.26" width="4.70" height="4.70" fill="#6a6a6a"/>
<rect x="101.75" y="627.92" width="4.70" height="4.70" fill="#6a6a6a"/>
<rect x="124.43" y="611.07" width="4.70" height="4.70" fill="#6a6a6a"/>
<rect x="141.44" y="597.62" width="4.70" height="4.70" fill="#6a6a6a"/>
<rect x="164.12" y="571.78" width="4.70" height="4.70" fill="#6a6a6a"/>
<polyline points="53.07,660.39 64.41,648.69 87.09,637.86 104.10,623.63 126.78,608.88 143.79,583.74" fill="none" stroke="#000" stroke-width="1.0" stroke-linejoin="miter"/>
<line x1="53.07" y1="659.25" x2="53.07" y2="661.43" stroke="#333" stroke-width="0.9" stroke-linecap="butt"/>
<line x1="51.07" y1="659.25" x2="55.07" y2="659.25" stroke="#333" stroke-width="0.9" stroke-linecap="butt"/>
<line x1="51.07" y1="661.43" x2="55.07" y2="661.43" stroke="#333" stroke-width="0.9" stroke-linecap="butt"/>
<line x1="64.41" y1="645.98" x2="64.41" y2="651.57" stroke="#333" stroke-width="0.9" stroke-linecap="butt"/>
<line x1="62.41" y1="645.98" x2="66.41" y2="645.98" stroke="#333" stroke-width="0.9" stroke-linecap="butt"/>
<line x1="62.41" y1="651.57" x2="66.41" y2="651.57" stroke="#333" stroke-width="0.9" stroke-linecap="butt"/>
<line x1="87.09" y1="633.41" x2="87.09" y2="641.97" stroke="#333" stroke-width="0.9" stroke-linecap="butt"/>
<line x1="85.09" y1="633.41" x2="89.09" y2="633.41" stroke="#333" stroke-width="0.9" stroke-linecap="butt"/>
<line x1="85.09" y1="641.97" x2="89.09" y2="641.97" stroke="#333" stroke-width="0.9" stroke-linecap="butt"/>
<line x1="104.10" y1="615.43" x2="104.10" y2="631.66" stroke="#333" stroke-width="0.9" stroke-linecap="butt"/>
<line x1="102.10" y1="615.43" x2="106.10" y2="615.43" stroke="#333" stroke-width="0.9" stroke-linecap="butt"/>
<line x1="102.10" y1="631.66" x2="106.10" y2="631.66" stroke="#333" stroke-width="0.9" stroke-linecap="butt"/>
<line x1="126.78" y1="601.55" x2="126.78" y2="617.43" stroke="#333" stroke-width="0.9" stroke-linecap="butt"/>
<line x1="124.78" y1="601.55" x2="128.78" y2="601.55" stroke="#333" stroke-width="0.9" stroke-linecap="butt"/>
<line x1="124.78" y1="617.43" x2="128.78" y2="617.43" stroke="#333" stroke-width="0.9" stroke-linecap="butt"/>
<line x1="143.79" y1="570.38" x2="143.79" y2="597.01" stroke="#333" stroke-width="0.9" stroke-linecap="butt"/>
<line x1="141.79" y1="570.38" x2="145.79" y2="570.38" stroke="#333" stroke-width="0.9" stroke-linecap="butt"/>
<line x1="141.79" y1="597.01" x2="145.79" y2="597.01" stroke="#333" stroke-width="0.9" stroke-linecap="butt"/>
<circle cx="53.07" cy="660.39" r="2.45" fill="#000"/>
<circle cx="64.41" cy="648.69" r="2.45" fill="#000"/>
<circle cx="87.09" cy="637.86" r="2.45" fill="#000"/>
<circle cx="104.10" cy="623.63" r="2.45" fill="#000"/>
<circle cx="126.78" cy="608.88" r="2.45" fill="#000"/>
<circle cx="143.79" cy="583.74" r="2.45" fill="#000"/>
<text x="189.50" y="593.30" font-size="8.3" font-weight="bold" text-anchor="start" fill="#333" textLength="15" lengthAdjust="spacingAndGlyphs" >****</text>
<text x="10.20" y="613.90" font-size="9.3" font-weight="bold" text-anchor="middle" transform="rotate(-90 10.20 613.90)">Tumor volume (mm<tspan font-size="6.05" dy="-3.53">3</tspan><tspan dy="3.53">)</tspan></text>
<text x="132.90" y="699.60" font-size="9.5" font-weight="bold" text-anchor="middle" fill="#000" >Days of treatment</text>
<line x1="267.60" y1="560.77" x2="267.60" y2="676.20" stroke="#000" stroke-width="1.4" stroke-linecap="butt"/>
<line x1="265.10" y1="675.50" x2="267.60" y2="675.50" stroke="#000" stroke-width="1.1" stroke-linecap="butt"/>
<line x1="265.10" y1="670.28" x2="267.60" y2="670.28" stroke="#000" stroke-width="1.1" stroke-linecap="butt"/>
<line x1="265.10" y1="665.07" x2="267.60" y2="665.07" stroke="#000" stroke-width="1.1" stroke-linecap="butt"/>
<line x1="265.10" y1="659.86" x2="267.60" y2="659.86" stroke="#000" stroke-width="1.1" stroke-linecap="butt"/>
<line x1="265.10" y1="654.64" x2="267.60" y2="654.64" stroke="#000" stroke-width="1.1" stroke-linecap="butt"/>
<line x1="265.10" y1="649.42" x2="267.60" y2="649.42" stroke="#000" stroke-width="1.1" stroke-linecap="butt"/>
<line x1="265.10" y1="644.21" x2="267.60" y2="644.21" stroke="#000" stroke-width="1.1" stroke-linecap="butt"/>
<line x1="265.10" y1="639.00" x2="267.60" y2="639.00" stroke="#000" stroke-width="1.1" stroke-linecap="butt"/>
<line x1="265.10" y1="633.78" x2="267.60" y2="633.78" stroke="#000" stroke-width="1.1" stroke-linecap="butt"/>
<line x1="265.10" y1="628.57" x2="267.60" y2="628.57" stroke="#000" stroke-width="1.1" stroke-linecap="butt"/>
<line x1="265.10" y1="623.35" x2="267.60" y2="623.35" stroke="#000" stroke-width="1.1" stroke-linecap="butt"/>
<line x1="265.10" y1="618.13" x2="267.60" y2="618.13" stroke="#000" stroke-width="1.1" stroke-linecap="butt"/>
<line x1="265.10" y1="612.92" x2="267.60" y2="612.92" stroke="#000" stroke-width="1.1" stroke-linecap="butt"/>
<line x1="265.10" y1="607.71" x2="267.60" y2="607.71" stroke="#000" stroke-width="1.1" stroke-linecap="butt"/>
<line x1="265.10" y1="602.49" x2="267.60" y2="602.49" stroke="#000" stroke-width="1.1" stroke-linecap="butt"/>
<line x1="265.10" y1="597.27" x2="267.60" y2="597.27" stroke="#000" stroke-width="1.1" stroke-linecap="butt"/>
<line x1="265.10" y1="592.06" x2="267.60" y2="592.06" stroke="#000" stroke-width="1.1" stroke-linecap="butt"/>
<line x1="265.10" y1="586.85" x2="267.60" y2="586.85" stroke="#000" stroke-width="1.1" stroke-linecap="butt"/>
<line x1="265.10" y1="581.63" x2="267.60" y2="581.63" stroke="#000" stroke-width="1.1" stroke-linecap="butt"/>
<line x1="265.10" y1="576.41" x2="267.60" y2="576.41" stroke="#000" stroke-width="1.1" stroke-linecap="butt"/>
<line x1="265.10" y1="571.20" x2="267.60" y2="571.20" stroke="#000" stroke-width="1.1" stroke-linecap="butt"/>
<line x1="265.10" y1="565.99" x2="267.60" y2="565.99" stroke="#000" stroke-width="1.1" stroke-linecap="butt"/>
<line x1="265.10" y1="560.77" x2="267.60" y2="560.77" stroke="#000" stroke-width="1.1" stroke-linecap="butt"/>
<line x1="263.30" y1="675.50" x2="267.60" y2="675.50" stroke="#000" stroke-width="1.2" stroke-linecap="butt"/>
<text x="261.70" y="678.40" font-size="8.4" font-weight="bold" text-anchor="end" fill="#000" >0</text>
<line x1="263.30" y1="623.35" x2="267.60" y2="623.35" stroke="#000" stroke-width="1.2" stroke-linecap="butt"/>
<text x="261.70" y="626.25" font-size="8.4" font-weight="bold" text-anchor="end" fill="#000" >50</text>
<line x1="263.30" y1="571.20" x2="267.60" y2="571.20" stroke="#000" stroke-width="1.2" stroke-linecap="butt"/>
<text x="261.70" y="574.10" font-size="8.4" font-weight="bold" text-anchor="end" fill="#000" >100</text>
<line x1="266.90" y1="675.50" x2="441.40" y2="675.50" stroke="#000" stroke-width="1.4" stroke-linecap="butt"/>
<line x1="267.60" y1="675.50" x2="267.60" y2="678.00" stroke="#000" stroke-width="1.1" stroke-linecap="butt"/>
<line x1="271.95" y1="675.50" x2="271.95" y2="678.00" stroke="#000" stroke-width="1.1" stroke-linecap="butt"/>
<line x1="276.29" y1="675.50" x2="276.29" y2="678.00" stroke="#000" stroke-width="1.1" stroke-linecap="butt"/>
<line x1="280.64" y1="675.50" x2="280.64" y2="678.00" stroke="#000" stroke-width="1.1" stroke-linecap="butt"/>
<line x1="284.98" y1="675.50" x2="284.98" y2="678.00" stroke="#000" stroke-width="1.1" stroke-linecap="butt"/>
<line x1="289.33" y1="675.50" x2="289.33" y2="678.00" stroke="#000" stroke-width="1.1" stroke-linecap="butt"/>
<line x1="293.67" y1="675.50" x2="293.67" y2="678.00" stroke="#000" stroke-width="1.1" stroke-linecap="butt"/>
<line x1="298.02" y1="675.50" x2="298.02" y2="678.00" stroke="#000" stroke-width="1.1" stroke-linecap="butt"/>
<line x1="302.36" y1="675.50" x2="302.36" y2="678.00" stroke="#000" stroke-width="1.1" stroke-linecap="butt"/>
<line x1="306.71" y1="675.50" x2="306.71" y2="678.00" stroke="#000" stroke-width="1.1" stroke-linecap="butt"/>
<line x1="311.05" y1="675.50" x2="311.05" y2="678.00" stroke="#000" stroke-width="1.1" stroke-linecap="butt"/>
<line x1="315.40" y1="675.50" x2="315.40" y2="678.00" stroke="#000" stroke-width="1.1" stroke-linecap="butt"/>
<line x1="319.74" y1="675.50" x2="319.74" y2="678.00" stroke="#000" stroke-width="1.1" stroke-linecap="butt"/>
<line x1="324.09" y1="675.50" x2="324.09" y2="678.00" stroke="#000" stroke-width="1.1" stroke-linecap="butt"/>
<line x1="328.43" y1="675.50" x2="328.43" y2="678.00" stroke="#000" stroke-width="1.1" stroke-linecap="butt"/>
<line x1="332.78" y1="675.50" x2="332.78" y2="678.00" stroke="#000" stroke-width="1.1" stroke-linecap="butt"/>
<line x1="337.12" y1="675.50" x2="337.12" y2="678.00" stroke="#000" stroke-width="1.1" stroke-linecap="butt"/>
<line x1="341.47" y1="675.50" x2="341.47" y2="678.00" stroke="#000" stroke-width="1.1" stroke-linecap="butt"/>
<line x1="345.81" y1="675.50" x2="345.81" y2="678.00" stroke="#000" stroke-width="1.1" stroke-linecap="butt"/>
<line x1="350.16" y1="675.50" x2="350.16" y2="678.00" stroke="#000" stroke-width="1.1" stroke-linecap="butt"/>
<line x1="354.50" y1="675.50" x2="354.50" y2="678.00" stroke="#000" stroke-width="1.1" stroke-linecap="butt"/>
<line x1="358.85" y1="675.50" x2="358.85" y2="678.00" stroke="#000" stroke-width="1.1" stroke-linecap="butt"/>
<line x1="363.19" y1="675.50" x2="363.19" y2="678.00" stroke="#000" stroke-width="1.1" stroke-linecap="butt"/>
<line x1="367.54" y1="675.50" x2="367.54" y2="678.00" stroke="#000" stroke-width="1.1" stroke-linecap="butt"/>
<line x1="371.88" y1="675.50" x2="371.88" y2="678.00" stroke="#000" stroke-width="1.1" stroke-linecap="butt"/>
<line x1="376.23" y1="675.50" x2="376.23" y2="678.00" stroke="#000" stroke-width="1.1" stroke-linecap="butt"/>
<line x1="380.57" y1="675.50" x2="380.57" y2="678.00" stroke="#000" stroke-width="1.1" stroke-linecap="butt"/>
<line x1="384.92" y1="675.50" x2="384.92" y2="678.00" stroke="#000" stroke-width="1.1" stroke-linecap="butt"/>
<line x1="389.26" y1="675.50" x2="389.26" y2="678.00" stroke="#000" stroke-width="1.1" stroke-linecap="butt"/>
<line x1="393.61" y1="675.50" x2="393.61" y2="678.00" stroke="#000" stroke-width="1.1" stroke-linecap="butt"/>
<line x1="397.95" y1="675.50" x2="397.95" y2="678.00" stroke="#000" stroke-width="1.1" stroke-linecap="butt"/>
<line x1="402.30" y1="675.50" x2="402.30" y2="678.00" stroke="#000" stroke-width="1.1" stroke-linecap="butt"/>
<line x1="406.64" y1="675.50" x2="406.64" y2="678.00" stroke="#000" stroke-width="1.1" stroke-linecap="butt"/>
<line x1="410.99" y1="675.50" x2="410.99" y2="678.00" stroke="#000" stroke-width="1.1" stroke-linecap="butt"/>
<line x1="415.33" y1="675.50" x2="415.33" y2="678.00" stroke="#000" stroke-width="1.1" stroke-linecap="butt"/>
<line x1="419.68" y1="675.50" x2="419.68" y2="678.00" stroke="#000" stroke-width="1.1" stroke-linecap="butt"/>
<line x1="424.02" y1="675.50" x2="424.02" y2="678.00" stroke="#000" stroke-width="1.1" stroke-linecap="butt"/>
<line x1="428.37" y1="675.50" x2="428.37" y2="678.00" stroke="#000" stroke-width="1.1" stroke-linecap="butt"/>
<line x1="432.71" y1="675.50" x2="432.71" y2="678.00" stroke="#000" stroke-width="1.1" stroke-linecap="butt"/>
<line x1="437.06" y1="675.50" x2="437.06" y2="678.00" stroke="#000" stroke-width="1.1" stroke-linecap="butt"/>
<line x1="441.40" y1="675.50" x2="441.40" y2="678.00" stroke="#000" stroke-width="1.1" stroke-linecap="butt"/>
<line x1="267.60" y1="675.50" x2="267.60" y2="679.80" stroke="#000" stroke-width="1.2" stroke-linecap="butt"/>
<text x="267.60" y="690.30" font-size="8.4" font-weight="bold" text-anchor="middle" fill="#000" >20</text>
<line x1="311.05" y1="675.50" x2="311.05" y2="679.80" stroke="#000" stroke-width="1.2" stroke-linecap="butt"/>
<text x="311.05" y="690.30" font-size="8.4" font-weight="bold" text-anchor="middle" fill="#000" >30</text>
<line x1="354.50" y1="675.50" x2="354.50" y2="679.80" stroke="#000" stroke-width="1.2" stroke-linecap="butt"/>
<text x="354.50" y="690.30" font-size="8.4" font-weight="bold" text-anchor="middle" fill="#000" >40</text>
<line x1="397.95" y1="675.50" x2="397.95" y2="679.80" stroke="#000" stroke-width="1.2" stroke-linecap="butt"/>
<text x="397.95" y="690.30" font-size="8.4" font-weight="bold" text-anchor="middle" fill="#000" >50</text>
<line x1="441.40" y1="675.50" x2="441.40" y2="679.80" stroke="#000" stroke-width="1.2" stroke-linecap="butt"/>
<text x="441.40" y="690.30" font-size="8.4" font-weight="bold" text-anchor="middle" fill="#000" >60</text>
<polyline points="267.60,571.20 328.43,571.20 328.43,571.20 328.43,571.20 328.43,602.49 341.47,602.49 341.47,602.49 341.47,602.49 341.47,612.92 371.88,612.92 371.88,612.92 371.88,612.92 371.88,654.64 389.26,654.64 389.26,654.64 389.26,654.64 389.26,675.50" fill="none" stroke="#555" stroke-width="1.1" stroke-linejoin="miter" stroke-dasharray="1,2"/>
<polyline points="267.60,571.20 311.05,571.20 311.05,571.20 311.05,571.20 311.05,581.63 328.43,581.63 328.43,581.63 328.43,581.63 328.43,592.06 371.88,592.06 371.88,592.06 371.88,592.06 371.88,633.78 389.26,633.78 389.26,633.78 389.26,633.78 389.26,675.50" fill="none" stroke="#bbb" stroke-width="1.0" stroke-linejoin="miter" stroke-dasharray="3,1.5,1,1.5"/>
<polyline points="267.60,571.20 311.05,571.20 311.05,571.20 311.05,571.20 311.05,581.63 341.47,581.63 341.47,581.63 341.47,581.63 341.47,592.06 389.26,592.06 389.26,592.06 389.26,592.06 389.26,644.21 419.68,644.21 419.68,644.21 419.68,644.21 419.68,665.07" fill="none" stroke="#555" stroke-width="1.1" stroke-linejoin="miter" stroke-dasharray="3.5,2"/>
<polyline points="267.60,571.20 311.05,571.20 311.05,571.20 311.05,571.20 311.05,597.27 341.47,597.27 341.47,597.27 341.47,597.27 341.47,628.57 371.88,628.57 371.88,628.57 371.88,628.57 371.88,659.86 389.26,659.86 389.26,659.86 389.26,659.86 389.26,675.50" fill="none" stroke="#000" stroke-width="1.4" stroke-linejoin="miter"/>
<text x="240.60" y="617.80" font-size="9.6" font-weight="bold" text-anchor="middle" fill="#000" transform="rotate(-90 240.60 617.80)">% Survival</text>
<text x="354.70" y="704.80" font-size="9.7" font-weight="bold" text-anchor="middle" fill="#000" >Days post graft</text>
<line x1="480.70" y1="562.78" x2="480.70" y2="676.20" stroke="#000" stroke-width="1.4" stroke-linecap="butt"/>
<line x1="478.20" y1="675.50" x2="480.70" y2="675.50" stroke="#000" stroke-width="1.1" stroke-linecap="butt"/>
<line x1="478.20" y1="669.86" x2="480.70" y2="669.86" stroke="#000" stroke-width="1.1" stroke-linecap="butt"/>
<line x1="478.20" y1="664.23" x2="480.70" y2="664.23" stroke="#000" stroke-width="1.1" stroke-linecap="butt"/>
<line x1="478.20" y1="658.59" x2="480.70" y2="658.59" stroke="#000" stroke-width="1.1" stroke-linecap="butt"/>
<line x1="478.20" y1="652.96" x2="480.70" y2="652.96" stroke="#000" stroke-width="1.1" stroke-linecap="butt"/>
<line x1="478.20" y1="647.32" x2="480.70" y2="647.32" stroke="#000" stroke-width="1.1" stroke-linecap="butt"/>
<line x1="478.20" y1="641.68" x2="480.70" y2="641.68" stroke="#000" stroke-width="1.1" stroke-linecap="butt"/>
<line x1="478.20" y1="636.05" x2="480.70" y2="636.05" stroke="#000" stroke-width="1.1" stroke-linecap="butt"/>
<line x1="478.20" y1="630.41" x2="480.70" y2="630.41" stroke="#000" stroke-width="1.1" stroke-linecap="butt"/>
<line x1="478.20" y1="624.78" x2="480.70" y2="624.78" stroke="#000" stroke-width="1.1" stroke-linecap="butt"/>
<line x1="478.20" y1="619.14" x2="480.70" y2="619.14" stroke="#000" stroke-width="1.1" stroke-linecap="butt"/>
<line x1="478.20" y1="613.50" x2="480.70" y2="613.50" stroke="#000" stroke-width="1.1" stroke-linecap="butt"/>
<line x1="478.20" y1="607.87" x2="480.70" y2="607.87" stroke="#000" stroke-width="1.1" stroke-linecap="butt"/>
<line x1="478.20" y1="602.23" x2="480.70" y2="602.23" stroke="#000" stroke-width="1.1" stroke-linecap="butt"/>
<line x1="478.20" y1="596.60" x2="480.70" y2="596.60" stroke="#000" stroke-width="1.1" stroke-linecap="butt"/>
<line x1="478.20" y1="590.96" x2="480.70" y2="590.96" stroke="#000" stroke-width="1.1" stroke-linecap="butt"/>
<line x1="478.20" y1="585.32" x2="480.70" y2="585.32" stroke="#000" stroke-width="1.1" stroke-linecap="butt"/>
<line x1="478.20" y1="579.69" x2="480.70" y2="579.69" stroke="#000" stroke-width="1.1" stroke-linecap="butt"/>
<line x1="478.20" y1="574.05" x2="480.70" y2="574.05" stroke="#000" stroke-width="1.1" stroke-linecap="butt"/>
<line x1="478.20" y1="568.42" x2="480.70" y2="568.42" stroke="#000" stroke-width="1.1" stroke-linecap="butt"/>
<line x1="478.20" y1="562.78" x2="480.70" y2="562.78" stroke="#000" stroke-width="1.1" stroke-linecap="butt"/>
<line x1="476.40" y1="675.50" x2="480.70" y2="675.50" stroke="#000" stroke-width="1.2" stroke-linecap="butt"/>
<text x="474.80" y="678.40" font-size="8.4" font-weight="bold" text-anchor="end" fill="#000" >80</text>
<line x1="476.40" y1="619.14" x2="480.70" y2="619.14" stroke="#000" stroke-width="1.2" stroke-linecap="butt"/>
<text x="474.80" y="622.04" font-size="8.4" font-weight="bold" text-anchor="end" fill="#000" >100</text>
<line x1="476.40" y1="562.78" x2="480.70" y2="562.78" stroke="#000" stroke-width="1.2" stroke-linecap="butt"/>
<text x="474.80" y="565.68" font-size="8.4" font-weight="bold" text-anchor="end" fill="#000" >120</text>
<line x1="480.00" y1="675.50" x2="649.05" y2="675.50" stroke="#000" stroke-width="1.4" stroke-linecap="butt"/>
<line x1="480.70" y1="675.50" x2="480.70" y2="678.00" stroke="#000" stroke-width="1.1" stroke-linecap="butt"/>
<line x1="485.51" y1="675.50" x2="485.51" y2="678.00" stroke="#000" stroke-width="1.1" stroke-linecap="butt"/>
<line x1="490.32" y1="675.50" x2="490.32" y2="678.00" stroke="#000" stroke-width="1.1" stroke-linecap="butt"/>
<line x1="495.13" y1="675.50" x2="495.13" y2="678.00" stroke="#000" stroke-width="1.1" stroke-linecap="butt"/>
<line x1="499.94" y1="675.50" x2="499.94" y2="678.00" stroke="#000" stroke-width="1.1" stroke-linecap="butt"/>
<line x1="504.75" y1="675.50" x2="504.75" y2="678.00" stroke="#000" stroke-width="1.1" stroke-linecap="butt"/>
<line x1="509.56" y1="675.50" x2="509.56" y2="678.00" stroke="#000" stroke-width="1.1" stroke-linecap="butt"/>
<line x1="514.37" y1="675.50" x2="514.37" y2="678.00" stroke="#000" stroke-width="1.1" stroke-linecap="butt"/>
<line x1="519.18" y1="675.50" x2="519.18" y2="678.00" stroke="#000" stroke-width="1.1" stroke-linecap="butt"/>
<line x1="523.99" y1="675.50" x2="523.99" y2="678.00" stroke="#000" stroke-width="1.1" stroke-linecap="butt"/>
<line x1="528.80" y1="675.50" x2="528.80" y2="678.00" stroke="#000" stroke-width="1.1" stroke-linecap="butt"/>
<line x1="533.61" y1="675.50" x2="533.61" y2="678.00" stroke="#000" stroke-width="1.1" stroke-linecap="butt"/>
<line x1="538.42" y1="675.50" x2="538.42" y2="678.00" stroke="#000" stroke-width="1.1" stroke-linecap="butt"/>
<line x1="543.23" y1="675.50" x2="543.23" y2="678.00" stroke="#000" stroke-width="1.1" stroke-linecap="butt"/>
<line x1="548.04" y1="675.50" x2="548.04" y2="678.00" stroke="#000" stroke-width="1.1" stroke-linecap="butt"/>
<line x1="552.85" y1="675.50" x2="552.85" y2="678.00" stroke="#000" stroke-width="1.1" stroke-linecap="butt"/>
<line x1="557.66" y1="675.50" x2="557.66" y2="678.00" stroke="#000" stroke-width="1.1" stroke-linecap="butt"/>
<line x1="562.47" y1="675.50" x2="562.47" y2="678.00" stroke="#000" stroke-width="1.1" stroke-linecap="butt"/>
<line x1="567.28" y1="675.50" x2="567.28" y2="678.00" stroke="#000" stroke-width="1.1" stroke-linecap="butt"/>
<line x1="572.09" y1="675.50" x2="572.09" y2="678.00" stroke="#000" stroke-width="1.1" stroke-linecap="butt"/>
<line x1="576.90" y1="675.50" x2="576.90" y2="678.00" stroke="#000" stroke-width="1.1" stroke-linecap="butt"/>
<line x1="581.71" y1="675.50" x2="581.71" y2="678.00" stroke="#000" stroke-width="1.1" stroke-linecap="butt"/>
<line x1="586.52" y1="675.50" x2="586.52" y2="678.00" stroke="#000" stroke-width="1.1" stroke-linecap="butt"/>
<line x1="591.33" y1="675.50" x2="591.33" y2="678.00" stroke="#000" stroke-width="1.1" stroke-linecap="butt"/>
<line x1="596.14" y1="675.50" x2="596.14" y2="678.00" stroke="#000" stroke-width="1.1" stroke-linecap="butt"/>
<line x1="600.95" y1="675.50" x2="600.95" y2="678.00" stroke="#000" stroke-width="1.1" stroke-linecap="butt"/>
<line x1="605.76" y1="675.50" x2="605.76" y2="678.00" stroke="#000" stroke-width="1.1" stroke-linecap="butt"/>
<line x1="610.57" y1="675.50" x2="610.57" y2="678.00" stroke="#000" stroke-width="1.1" stroke-linecap="butt"/>
<line x1="615.38" y1="675.50" x2="615.38" y2="678.00" stroke="#000" stroke-width="1.1" stroke-linecap="butt"/>
<line x1="620.19" y1="675.50" x2="620.19" y2="678.00" stroke="#000" stroke-width="1.1" stroke-linecap="butt"/>
<line x1="625.00" y1="675.50" x2="625.00" y2="678.00" stroke="#000" stroke-width="1.1" stroke-linecap="butt"/>
<line x1="629.81" y1="675.50" x2="629.81" y2="678.00" stroke="#000" stroke-width="1.1" stroke-linecap="butt"/>
<line x1="634.62" y1="675.50" x2="634.62" y2="678.00" stroke="#000" stroke-width="1.1" stroke-linecap="butt"/>
<line x1="639.43" y1="675.50" x2="639.43" y2="678.00" stroke="#000" stroke-width="1.1" stroke-linecap="butt"/>
<line x1="644.24" y1="675.50" x2="644.24" y2="678.00" stroke="#000" stroke-width="1.1" stroke-linecap="butt"/>
<line x1="649.05" y1="675.50" x2="649.05" y2="678.00" stroke="#000" stroke-width="1.1" stroke-linecap="butt"/>
<line x1="480.70" y1="675.50" x2="480.70" y2="679.80" stroke="#000" stroke-width="1.2" stroke-linecap="butt"/>
<text x="480.70" y="689.40" font-size="8.4" font-weight="bold" text-anchor="middle" fill="#000" >0</text>
<line x1="528.80" y1="675.50" x2="528.80" y2="679.80" stroke="#000" stroke-width="1.2" stroke-linecap="butt"/>
<text x="528.80" y="689.40" font-size="8.4" font-weight="bold" text-anchor="middle" fill="#000" >10</text>
<line x1="576.90" y1="675.50" x2="576.90" y2="679.80" stroke="#000" stroke-width="1.2" stroke-linecap="butt"/>
<text x="576.90" y="689.40" font-size="8.4" font-weight="bold" text-anchor="middle" fill="#000" >20</text>
<line x1="625.00" y1="675.50" x2="625.00" y2="679.80" stroke="#000" stroke-width="1.2" stroke-linecap="butt"/>
<text x="625.00" y="689.40" font-size="8.4" font-weight="bold" text-anchor="middle" fill="#000" >30</text>
<polyline points="495.13,619.14 514.37,614.91 528.80,613.50 548.04,619.70 562.47,615.48 581.71,610.69 596.14,609.28 615.38,608.43 629.81,609.84" fill="none" stroke="#d0d0d0" stroke-width="1.0" stroke-linejoin="miter"/>
<line x1="514.37" y1="612.10" x2="514.37" y2="617.73" stroke="#d0d0d0" stroke-width="0.9" stroke-linecap="butt"/>
<line x1="512.37" y1="612.10" x2="516.37" y2="612.10" stroke="#d0d0d0" stroke-width="0.9" stroke-linecap="butt"/>
<line x1="512.37" y1="617.73" x2="516.37" y2="617.73" stroke="#d0d0d0" stroke-width="0.9" stroke-linecap="butt"/>
<line x1="528.80" y1="610.69" x2="528.80" y2="616.32" stroke="#d0d0d0" stroke-width="0.9" stroke-linecap="butt"/>
<line x1="526.80" y1="610.69" x2="530.80" y2="610.69" stroke="#d0d0d0" stroke-width="0.9" stroke-linecap="butt"/>
<line x1="526.80" y1="616.32" x2="530.80" y2="616.32" stroke="#d0d0d0" stroke-width="0.9" stroke-linecap="butt"/>
<line x1="548.04" y1="617.45" x2="548.04" y2="621.96" stroke="#d0d0d0" stroke-width="0.9" stroke-linecap="butt"/>
<line x1="546.04" y1="617.45" x2="550.04" y2="617.45" stroke="#d0d0d0" stroke-width="0.9" stroke-linecap="butt"/>
<line x1="546.04" y1="621.96" x2="550.04" y2="621.96" stroke="#d0d0d0" stroke-width="0.9" stroke-linecap="butt"/>
<line x1="562.47" y1="610.69" x2="562.47" y2="620.55" stroke="#d0d0d0" stroke-width="0.9" stroke-linecap="butt"/>
<line x1="560.47" y1="610.69" x2="564.47" y2="610.69" stroke="#d0d0d0" stroke-width="0.9" stroke-linecap="butt"/>
<line x1="560.47" y1="620.55" x2="564.47" y2="620.55" stroke="#d0d0d0" stroke-width="0.9" stroke-linecap="butt"/>
<line x1="581.71" y1="606.46" x2="581.71" y2="614.91" stroke="#d0d0d0" stroke-width="0.9" stroke-linecap="butt"/>
<line x1="579.71" y1="606.46" x2="583.71" y2="606.46" stroke="#d0d0d0" stroke-width="0.9" stroke-linecap="butt"/>
<line x1="579.71" y1="614.91" x2="583.71" y2="614.91" stroke="#d0d0d0" stroke-width="0.9" stroke-linecap="butt"/>
<line x1="629.81" y1="606.18" x2="629.81" y2="613.50" stroke="#d0d0d0" stroke-width="0.9" stroke-linecap="butt"/>
<line x1="627.81" y1="606.18" x2="631.81" y2="606.18" stroke="#d0d0d0" stroke-width="0.9" stroke-linecap="butt"/>
<line x1="627.81" y1="613.50" x2="631.81" y2="613.50" stroke="#d0d0d0" stroke-width="0.9" stroke-linecap="butt"/>
<polygon points="495.13,616.03 498.10,621.16 492.16,621.16" fill="#d0d0d0"/>
<polygon points="514.37,611.81 517.34,616.94 511.40,616.94" fill="#d0d0d0"/>
<polygon points="528.80,610.40 531.77,615.53 525.83,615.53" fill="#d0d0d0"/>
<polygon points="548.04,616.60 551.01,621.73 545.07,621.73" fill="#d0d0d0"/>
<polygon points="562.47,612.37 565.44,617.50 559.50,617.50" fill="#d0d0d0"/>
<polygon points="581.71,607.58 584.68,612.71 578.74,612.71" fill="#d0d0d0"/>
<polygon points="596.14,606.17 599.11,611.30 593.17,611.30" fill="#d0d0d0"/>
<polygon points="615.38,605.33 618.35,610.46 612.41,610.46" fill="#d0d0d0"/>
<polygon points="629.81,606.74 632.78,611.87 626.84,611.87" fill="#d0d0d0"/>
<polyline points="495.13,619.14 514.37,620.55 528.80,623.65 548.04,632.10 562.47,632.10 581.71,625.34 596.14,622.80 615.38,626.18 629.81,609.84" fill="none" stroke="#808080" stroke-width="1.2" stroke-linejoin="miter" stroke-dasharray="4,2.5"/>
<line x1="514.37" y1="619.14" x2="514.37" y2="621.96" stroke="#a8a8a8" stroke-width="0.9" stroke-linecap="butt"/>
<line x1="512.37" y1="619.14" x2="516.37" y2="619.14" stroke="#a8a8a8" stroke-width="0.9" stroke-linecap="butt"/>
<line x1="512.37" y1="621.96" x2="516.37" y2="621.96" stroke="#a8a8a8" stroke-width="0.9" stroke-linecap="butt"/>
<line x1="528.80" y1="622.52" x2="528.80" y2="624.78" stroke="#a8a8a8" stroke-width="0.9" stroke-linecap="butt"/>
<line x1="526.80" y1="622.52" x2="530.80" y2="622.52" stroke="#a8a8a8" stroke-width="0.9" stroke-linecap="butt"/>
<line x1="526.80" y1="624.78" x2="530.80" y2="624.78" stroke="#a8a8a8" stroke-width="0.9" stroke-linecap="butt"/>
<line x1="548.04" y1="629.00" x2="548.04" y2="635.20" stroke="#a8a8a8" stroke-width="0.9" stroke-linecap="butt"/>
<line x1="546.04" y1="629.00" x2="550.04" y2="629.00" stroke="#a8a8a8" stroke-width="0.9" stroke-linecap="butt"/>
<line x1="546.04" y1="635.20" x2="550.04" y2="635.20" stroke="#a8a8a8" stroke-width="0.9" stroke-linecap="butt"/>
<line x1="562.47" y1="628.16" x2="562.47" y2="636.05" stroke="#a8a8a8" stroke-width="0.9" stroke-linecap="butt"/>
<line x1="560.47" y1="628.16" x2="564.47" y2="628.16" stroke="#a8a8a8" stroke-width="0.9" stroke-linecap="butt"/>
<line x1="560.47" y1="636.05" x2="564.47" y2="636.05" stroke="#a8a8a8" stroke-width="0.9" stroke-linecap="butt"/>
<line x1="581.71" y1="620.55" x2="581.71" y2="630.41" stroke="#a8a8a8" stroke-width="0.9" stroke-linecap="butt"/>
<line x1="579.71" y1="620.55" x2="583.71" y2="620.55" stroke="#a8a8a8" stroke-width="0.9" stroke-linecap="butt"/>
<line x1="579.71" y1="630.41" x2="583.71" y2="630.41" stroke="#a8a8a8" stroke-width="0.9" stroke-linecap="butt"/>
<line x1="596.14" y1="620.27" x2="596.14" y2="625.34" stroke="#a8a8a8" stroke-width="0.9" stroke-linecap="butt"/>
<line x1="594.14" y1="620.27" x2="598.14" y2="620.27" stroke="#a8a8a8" stroke-width="0.9" stroke-linecap="butt"/>
<line x1="594.14" y1="625.34" x2="598.14" y2="625.34" stroke="#a8a8a8" stroke-width="0.9" stroke-linecap="butt"/>
<line x1="615.38" y1="622.80" x2="615.38" y2="629.57" stroke="#a8a8a8" stroke-width="0.9" stroke-linecap="butt"/>
<line x1="613.38" y1="622.80" x2="617.38" y2="622.80" stroke="#a8a8a8" stroke-width="0.9" stroke-linecap="butt"/>
<line x1="613.38" y1="629.57" x2="617.38" y2="629.57" stroke="#a8a8a8" stroke-width="0.9" stroke-linecap="butt"/>
<line x1="629.81" y1="607.59" x2="629.81" y2="612.10" stroke="#a8a8a8" stroke-width="0.9" stroke-linecap="butt"/>
<line x1="627.81" y1="607.59" x2="631.81" y2="607.59" stroke="#a8a8a8" stroke-width="0.9" stroke-linecap="butt"/>
<line x1="627.81" y1="612.10" x2="631.81" y2="612.10" stroke="#a8a8a8" stroke-width="0.9" stroke-linecap="butt"/>
<polygon points="495.13,622.25 498.10,617.12 492.16,617.12" fill="#7a7a7a"/>
<polygon points="514.37,623.65 517.34,618.52 511.40,618.52" fill="#7a7a7a"/>
<polygon points="528.80,626.75 531.77,621.62 525.83,621.62" fill="#7a7a7a"/>
<polygon points="548.04,635.21 551.01,630.08 545.07,630.08" fill="#7a7a7a"/>
<polygon points="562.47,635.21 565.44,630.08 559.50,630.08" fill="#7a7a7a"/>
<polygon points="581.71,628.44 584.68,623.31 578.74,623.31" fill="#7a7a7a"/>
<polygon points="596.14,625.91 599.11,620.78 593.17,620.78" fill="#7a7a7a"/>
<polygon points="615.38,629.29 618.35,624.16 612.41,624.16" fill="#7a7a7a"/>
<polygon points="629.81,612.95 632.78,607.82 626.84,607.82" fill="#7a7a7a"/>
<polyline points="495.13,619.14 514.37,614.91 528.80,614.91 548.04,620.55 562.47,606.46 581.71,605.61 596.14,597.16 615.38,603.64 629.81,605.61" fill="none" stroke="#6a6a6a" stroke-width="1.0" stroke-linejoin="miter" stroke-dasharray="1,1.8"/>
<line x1="514.37" y1="613.50" x2="514.37" y2="616.32" stroke="#777" stroke-width="0.9" stroke-linecap="butt"/>
<line x1="512.37" y1="613.50" x2="516.37" y2="613.50" stroke="#777" stroke-width="0.9" stroke-linecap="butt"/>
<line x1="512.37" y1="616.32" x2="516.37" y2="616.32" stroke="#777" stroke-width="0.9" stroke-linecap="butt"/>
<line x1="528.80" y1="613.50" x2="528.80" y2="616.32" stroke="#777" stroke-width="0.9" stroke-linecap="butt"/>
<line x1="526.80" y1="613.50" x2="530.80" y2="613.50" stroke="#777" stroke-width="0.9" stroke-linecap="butt"/>
<line x1="526.80" y1="616.32" x2="530.80" y2="616.32" stroke="#777" stroke-width="0.9" stroke-linecap="butt"/>
<line x1="548.04" y1="618.58" x2="548.04" y2="622.52" stroke="#777" stroke-width="0.9" stroke-linecap="butt"/>
<line x1="546.04" y1="618.58" x2="550.04" y2="618.58" stroke="#777" stroke-width="0.9" stroke-linecap="butt"/>
<line x1="546.04" y1="622.52" x2="550.04" y2="622.52" stroke="#777" stroke-width="0.9" stroke-linecap="butt"/>
<line x1="562.47" y1="603.64" x2="562.47" y2="609.28" stroke="#777" stroke-width="0.9" stroke-linecap="butt"/>
<line x1="560.47" y1="603.64" x2="564.47" y2="603.64" stroke="#777" stroke-width="0.9" stroke-linecap="butt"/>
<line x1="560.47" y1="609.28" x2="564.47" y2="609.28" stroke="#777" stroke-width="0.9" stroke-linecap="butt"/>
<line x1="581.71" y1="603.36" x2="581.71" y2="607.87" stroke="#777" stroke-width="0.9" stroke-linecap="butt"/>
<line x1="579.71" y1="603.36" x2="583.71" y2="603.36" stroke="#777" stroke-width="0.9" stroke-linecap="butt"/>
<line x1="579.71" y1="607.87" x2="583.71" y2="607.87" stroke="#777" stroke-width="0.9" stroke-linecap="butt"/>
<line x1="615.38" y1="598.00" x2="615.38" y2="609.28" stroke="#777" stroke-width="0.9" stroke-linecap="butt"/>
<line x1="613.38" y1="598.00" x2="617.38" y2="598.00" stroke="#777" stroke-width="0.9" stroke-linecap="butt"/>
<line x1="613.38" y1="609.28" x2="617.38" y2="609.28" stroke="#777" stroke-width="0.9" stroke-linecap="butt"/>
<line x1="629.81" y1="602.23" x2="629.81" y2="609.28" stroke="#777" stroke-width="0.9" stroke-linecap="butt"/>
<line x1="627.81" y1="602.23" x2="631.81" y2="602.23" stroke="#777" stroke-width="0.9" stroke-linecap="butt"/>
<line x1="627.81" y1="609.28" x2="631.81" y2="609.28" stroke="#777" stroke-width="0.9" stroke-linecap="butt"/>
<rect x="492.78" y="616.79" width="4.70" height="4.70" fill="#6a6a6a"/>
<rect x="512.02" y="612.56" width="4.70" height="4.70" fill="#6a6a6a"/>
<rect x="526.45" y="612.56" width="4.70" height="4.70" fill="#6a6a6a"/>
<rect x="545.69" y="618.20" width="4.70" height="4.70" fill="#6a6a6a"/>
<rect x="560.12" y="604.11" width="4.70" height="4.70" fill="#6a6a6a"/>
<rect x="579.36" y="603.26" width="4.70" height="4.70" fill="#6a6a6a"/>
<rect x="593.79" y="594.81" width="4.70" height="4.70" fill="#6a6a6a"/>
<rect x="613.03" y="601.29" width="4.70" height="4.70" fill="#6a6a6a"/>
<rect x="627.46" y="603.26" width="4.70" height="4.70" fill="#6a6a6a"/>
<polyline points="495.13,619.14 514.37,614.91 528.80,614.91 548.04,617.73 562.47,603.64 581.71,599.98 596.14,606.46 615.38,605.90 629.81,599.98" fill="none" stroke="#000" stroke-width="1.5" stroke-linejoin="miter"/>
<line x1="514.37" y1="612.94" x2="514.37" y2="616.89" stroke="#333" stroke-width="0.9" stroke-linecap="butt"/>
<line x1="512.37" y1="612.94" x2="516.37" y2="612.94" stroke="#333" stroke-width="0.9" stroke-linecap="butt"/>
<line x1="512.37" y1="616.89" x2="516.37" y2="616.89" stroke="#333" stroke-width="0.9" stroke-linecap="butt"/>
<line x1="528.80" y1="612.66" x2="528.80" y2="616.89" stroke="#333" stroke-width="0.9" stroke-linecap="butt"/>
<line x1="526.80" y1="612.66" x2="530.80" y2="612.66" stroke="#333" stroke-width="0.9" stroke-linecap="butt"/>
<line x1="526.80" y1="616.89" x2="530.80" y2="616.89" stroke="#333" stroke-width="0.9" stroke-linecap="butt"/>
<line x1="548.04" y1="615.76" x2="548.04" y2="619.70" stroke="#333" stroke-width="0.9" stroke-linecap="butt"/>
<line x1="546.04" y1="615.76" x2="550.04" y2="615.76" stroke="#333" stroke-width="0.9" stroke-linecap="butt"/>
<line x1="546.04" y1="619.70" x2="550.04" y2="619.70" stroke="#333" stroke-width="0.9" stroke-linecap="butt"/>
<line x1="562.47" y1="599.98" x2="562.47" y2="607.02" stroke="#333" stroke-width="0.9" stroke-linecap="butt"/>
<line x1="560.47" y1="599.98" x2="564.47" y2="599.98" stroke="#333" stroke-width="0.9" stroke-linecap="butt"/>
<line x1="560.47" y1="607.02" x2="564.47" y2="607.02" stroke="#333" stroke-width="0.9" stroke-linecap="butt"/>
<line x1="581.71" y1="595.19" x2="581.71" y2="603.64" stroke="#333" stroke-width="0.9" stroke-linecap="butt"/>
<line x1="579.71" y1="595.19" x2="583.71" y2="595.19" stroke="#333" stroke-width="0.9" stroke-linecap="butt"/>
<line x1="579.71" y1="603.64" x2="583.71" y2="603.64" stroke="#333" stroke-width="0.9" stroke-linecap="butt"/>
<line x1="596.14" y1="602.23" x2="596.14" y2="610.69" stroke="#333" stroke-width="0.9" stroke-linecap="butt"/>
<line x1="594.14" y1="602.23" x2="598.14" y2="602.23" stroke="#333" stroke-width="0.9" stroke-linecap="butt"/>
<line x1="594.14" y1="610.69" x2="598.14" y2="610.69" stroke="#333" stroke-width="0.9" stroke-linecap="butt"/>
<line x1="615.38" y1="598.00" x2="615.38" y2="613.50" stroke="#333" stroke-width="0.9" stroke-linecap="butt"/>
<line x1="613.38" y1="598.00" x2="617.38" y2="598.00" stroke="#333" stroke-width="0.9" stroke-linecap="butt"/>
<line x1="613.38" y1="613.50" x2="617.38" y2="613.50" stroke="#333" stroke-width="0.9" stroke-linecap="butt"/>
<line x1="629.81" y1="589.55" x2="629.81" y2="609.28" stroke="#333" stroke-width="0.9" stroke-linecap="butt"/>
<line x1="627.81" y1="589.55" x2="631.81" y2="589.55" stroke="#333" stroke-width="0.9" stroke-linecap="butt"/>
<line x1="627.81" y1="609.28" x2="631.81" y2="609.28" stroke="#333" stroke-width="0.9" stroke-linecap="butt"/>
<circle cx="495.13" cy="619.14" r="2.45" fill="#000"/>
<circle cx="514.37" cy="614.91" r="2.45" fill="#000"/>
<circle cx="528.80" cy="614.91" r="2.45" fill="#000"/>
<circle cx="548.04" cy="617.73" r="2.45" fill="#000"/>
<circle cx="562.47" cy="603.64" r="2.45" fill="#000"/>
<circle cx="581.71" cy="599.98" r="2.45" fill="#000"/>
<circle cx="596.14" cy="606.46" r="2.45" fill="#000"/>
<circle cx="615.38" cy="605.90" r="2.45" fill="#000"/>
<circle cx="629.81" cy="599.98" r="2.45" fill="#000"/>
<text x="627.80" y="623.60" font-size="8.5" font-weight="bold" text-anchor="start" fill="#333" textLength="14" lengthAdjust="spacingAndGlyphs" >****</text>
<text x="454.70" y="618.90" font-size="9.3" font-weight="bold" text-anchor="middle" fill="#000" transform="rotate(-90 454.70 618.90)">Body weight %</text>
<text x="565.20" y="703.70" font-size="9.45" font-weight="bold" text-anchor="middle" fill="#000" >Days of treatment</text>
<line x1="42.60" y1="754.40" x2="54.60" y2="754.40" stroke="#000" stroke-width="1.1" stroke-linecap="butt"/>
<circle cx="48.60" cy="754.40" r="2.3" fill="#000"/>
<text x="62.10" y="757.90" font-size="10" fill="#222" textLength="30.96" lengthAdjust="spacingAndGlyphs">Vehicle</text>
<line x1="42.60" y1="769.20" x2="54.60" y2="769.20" stroke="#808080" stroke-width="1.1" stroke-linecap="butt" stroke-dasharray="3,2"/>
<polygon points="48.60,771.85 51.13,767.48 46.07,767.48" fill="#808080"/>
<text x="62.10" y="772.60" font-size="10" fill="#222" textLength="91.79" lengthAdjust="spacingAndGlyphs">EAPB02303 30mg/kg</text>
<line x1="47.80" y1="789.70" x2="47.80" y2="903.20" stroke="#000" stroke-width="1.4" stroke-linecap="butt"/>
<line x1="45.30" y1="902.50" x2="47.80" y2="902.50" stroke="#000" stroke-width="1.1" stroke-linecap="butt"/>
<line x1="45.30" y1="896.86" x2="47.80" y2="896.86" stroke="#000" stroke-width="1.1" stroke-linecap="butt"/>
<line x1="45.30" y1="891.22" x2="47.80" y2="891.22" stroke="#000" stroke-width="1.1" stroke-linecap="butt"/>
<line x1="45.30" y1="885.58" x2="47.80" y2="885.58" stroke="#000" stroke-width="1.1" stroke-linecap="butt"/>
<line x1="45.30" y1="879.94" x2="47.80" y2="879.94" stroke="#000" stroke-width="1.1" stroke-linecap="butt"/>
<line x1="45.30" y1="874.30" x2="47.80" y2="874.30" stroke="#000" stroke-width="1.1" stroke-linecap="butt"/>
<line x1="45.30" y1="868.66" x2="47.80" y2="868.66" stroke="#000" stroke-width="1.1" stroke-linecap="butt"/>
<line x1="45.30" y1="863.02" x2="47.80" y2="863.02" stroke="#000" stroke-width="1.1" stroke-linecap="butt"/>
<line x1="45.30" y1="857.38" x2="47.80" y2="857.38" stroke="#000" stroke-width="1.1" stroke-linecap="butt"/>
<line x1="45.30" y1="851.74" x2="47.80" y2="851.74" stroke="#000" stroke-width="1.1" stroke-linecap="butt"/>
<line x1="45.30" y1="846.10" x2="47.80" y2="846.10" stroke="#000" stroke-width="1.1" stroke-linecap="butt"/>
<line x1="45.30" y1="840.46" x2="47.80" y2="840.46" stroke="#000" stroke-width="1.1" stroke-linecap="butt"/>
<line x1="45.30" y1="834.82" x2="47.80" y2="834.82" stroke="#000" stroke-width="1.1" stroke-linecap="butt"/>
<line x1="45.30" y1="829.18" x2="47.80" y2="829.18" stroke="#000" stroke-width="1.1" stroke-linecap="butt"/>
<line x1="45.30" y1="823.54" x2="47.80" y2="823.54" stroke="#000" stroke-width="1.1" stroke-linecap="butt"/>
<line x1="45.30" y1="817.90" x2="47.80" y2="817.90" stroke="#000" stroke-width="1.1" stroke-linecap="butt"/>
<line x1="45.30" y1="812.26" x2="47.80" y2="812.26" stroke="#000" stroke-width="1.1" stroke-linecap="butt"/>
<line x1="45.30" y1="806.62" x2="47.80" y2="806.62" stroke="#000" stroke-width="1.1" stroke-linecap="butt"/>
<line x1="45.30" y1="800.98" x2="47.80" y2="800.98" stroke="#000" stroke-width="1.1" stroke-linecap="butt"/>
<line x1="45.30" y1="795.34" x2="47.80" y2="795.34" stroke="#000" stroke-width="1.1" stroke-linecap="butt"/>
<line x1="45.30" y1="789.70" x2="47.80" y2="789.70" stroke="#000" stroke-width="1.1" stroke-linecap="butt"/>
<line x1="43.50" y1="902.50" x2="47.80" y2="902.50" stroke="#000" stroke-width="1.2" stroke-linecap="butt"/>
<text x="41.90" y="905.40" font-size="8.4" font-weight="bold" text-anchor="end" fill="#000" >0</text>
<line x1="43.50" y1="846.10" x2="47.80" y2="846.10" stroke="#000" stroke-width="1.2" stroke-linecap="butt"/>
<text x="41.90" y="849.00" font-size="8.4" font-weight="bold" text-anchor="end" fill="#000" >500</text>
<line x1="43.50" y1="789.70" x2="47.80" y2="789.70" stroke="#000" stroke-width="1.2" stroke-linecap="butt"/>
<text x="41.90" y="792.60" font-size="8.4" font-weight="bold" text-anchor="end" fill="#000" >1000</text>
<line x1="47.10" y1="902.50" x2="218.52" y2="902.50" stroke="#000" stroke-width="1.4" stroke-linecap="butt"/>
<line x1="47.80" y1="902.50" x2="47.80" y2="905.00" stroke="#000" stroke-width="1.1" stroke-linecap="butt"/>
<line x1="58.47" y1="902.50" x2="58.47" y2="905.00" stroke="#000" stroke-width="1.1" stroke-linecap="butt"/>
<line x1="69.14" y1="902.50" x2="69.14" y2="905.00" stroke="#000" stroke-width="1.1" stroke-linecap="butt"/>
<line x1="79.81" y1="902.50" x2="79.81" y2="905.00" stroke="#000" stroke-width="1.1" stroke-linecap="butt"/>
<line x1="90.48" y1="902.50" x2="90.48" y2="905.00" stroke="#000" stroke-width="1.1" stroke-linecap="butt"/>
<line x1="101.15" y1="902.50" x2="101.15" y2="905.00" stroke="#000" stroke-width="1.1" stroke-linecap="butt"/>
<line x1="111.82" y1="902.50" x2="111.82" y2="905.00" stroke="#000" stroke-width="1.1" stroke-linecap="butt"/>
<line x1="122.49" y1="902.50" x2="122.49" y2="905.00" stroke="#000" stroke-width="1.1" stroke-linecap="butt"/>
<line x1="133.16" y1="902.50" x2="133.16" y2="905.00" stroke="#000" stroke-width="1.1" stroke-linecap="butt"/>
<line x1="143.83" y1="902.50" x2="143.83" y2="905.00" stroke="#000" stroke-width="1.1" stroke-linecap="butt"/>
<line x1="154.50" y1="902.50" x2="154.50" y2="905.00" stroke="#000" stroke-width="1.1" stroke-linecap="butt"/>
<line x1="165.17" y1="902.50" x2="165.17" y2="905.00" stroke="#000" stroke-width="1.1" stroke-linecap="butt"/>
<line x1="175.84" y1="902.50" x2="175.84" y2="905.00" stroke="#000" stroke-width="1.1" stroke-linecap="butt"/>
<line x1="186.51" y1="902.50" x2="186.51" y2="905.00" stroke="#000" stroke-width="1.1" stroke-linecap="butt"/>
<line x1="197.18" y1="902.50" x2="197.18" y2="905.00" stroke="#000" stroke-width="1.1" stroke-linecap="butt"/>
<line x1="207.85" y1="902.50" x2="207.85" y2="905.00" stroke="#000" stroke-width="1.1" stroke-linecap="butt"/>
<line x1="218.52" y1="902.50" x2="218.52" y2="905.00" stroke="#000" stroke-width="1.1" stroke-linecap="butt"/>
<line x1="47.80" y1="902.50" x2="47.80" y2="906.80" stroke="#000" stroke-width="1.2" stroke-linecap="butt"/>
<text x="47.80" y="916.20" font-size="8.4" font-weight="bold" text-anchor="middle" fill="#000" >0</text>
<line x1="101.15" y1="902.50" x2="101.15" y2="906.80" stroke="#000" stroke-width="1.2" stroke-linecap="butt"/>
<text x="101.15" y="916.20" font-size="8.4" font-weight="bold" text-anchor="middle" fill="#000" >10</text>
<line x1="154.50" y1="902.50" x2="154.50" y2="906.80" stroke="#000" stroke-width="1.2" stroke-linecap="butt"/>
<text x="154.50" y="916.20" font-size="8.4" font-weight="bold" text-anchor="middle" fill="#000" >20</text>
<line x1="207.85" y1="902.50" x2="207.85" y2="906.80" stroke="#000" stroke-width="1.2" stroke-linecap="butt"/>
<text x="207.85" y="916.20" font-size="8.4" font-weight="bold" text-anchor="middle" fill="#000" >30</text>
<polyline points="53.13,888.96 79.81,878.81 138.50,865.28 154.50,854.00 191.84,841.59 207.85,847.23" fill="none" stroke="#808080" stroke-width="1.2" stroke-linejoin="miter" stroke-dasharray="4,2.5"/>
<line x1="53.13" y1="887.84" x2="53.13" y2="890.09" stroke="#999" stroke-width="0.9" stroke-linecap="butt"/>
<line x1="51.13" y1="887.84" x2="55.13" y2="887.84" stroke="#999" stroke-width="0.9" stroke-linecap="butt"/>
<line x1="51.13" y1="890.09" x2="55.13" y2="890.09" stroke="#999" stroke-width="0.9" stroke-linecap="butt"/>
<line x1="79.81" y1="877.12" x2="79.81" y2="880.50" stroke="#999" stroke-width="0.9" stroke-linecap="butt"/>
<line x1="77.81" y1="877.12" x2="81.81" y2="877.12" stroke="#999" stroke-width="0.9" stroke-linecap="butt"/>
<line x1="77.81" y1="880.50" x2="81.81" y2="880.50" stroke="#999" stroke-width="0.9" stroke-linecap="butt"/>
<line x1="138.50" y1="861.89" x2="138.50" y2="868.66" stroke="#999" stroke-width="0.9" stroke-linecap="butt"/>
<line x1="136.50" y1="861.89" x2="140.50" y2="861.89" stroke="#999" stroke-width="0.9" stroke-linecap="butt"/>
<line x1="136.50" y1="868.66" x2="140.50" y2="868.66" stroke="#999" stroke-width="0.9" stroke-linecap="butt"/>
<line x1="154.50" y1="849.48" x2="154.50" y2="859.07" stroke="#999" stroke-width="0.9" stroke-linecap="butt"/>
<line x1="152.50" y1="849.48" x2="156.50" y2="849.48" stroke="#999" stroke-width="0.9" stroke-linecap="butt"/>
<line x1="152.50" y1="859.07" x2="156.50" y2="859.07" stroke="#999" stroke-width="0.9" stroke-linecap="butt"/>
<line x1="191.84" y1="834.26" x2="191.84" y2="848.92" stroke="#999" stroke-width="0.9" stroke-linecap="butt"/>
<line x1="189.84" y1="834.26" x2="193.84" y2="834.26" stroke="#999" stroke-width="0.9" stroke-linecap="butt"/>
<line x1="189.84" y1="848.92" x2="193.84" y2="848.92" stroke="#999" stroke-width="0.9" stroke-linecap="butt"/>
<line x1="207.85" y1="843.28" x2="207.85" y2="851.18" stroke="#999" stroke-width="0.9" stroke-linecap="butt"/>
<line x1="205.85" y1="843.28" x2="209.85" y2="843.28" stroke="#999" stroke-width="0.9" stroke-linecap="butt"/>
<line x1="205.85" y1="851.18" x2="209.85" y2="851.18" stroke="#999" stroke-width="0.9" stroke-linecap="butt"/>
<polygon points="53.13,892.07 56.10,886.94 50.16,886.94" fill="#767676"/>
<polygon points="79.81,881.92 82.78,876.79 76.84,876.79" fill="#767676"/>
<polygon points="138.50,868.38 141.47,863.25 135.53,863.25" fill="#767676"/>
<polygon points="154.50,857.10 157.47,851.97 151.53,851.97" fill="#767676"/>
<polygon points="191.84,844.69 194.81,839.56 188.87,839.56" fill="#767676"/>
<polygon points="207.85,850.33 210.82,845.20 204.88,845.20" fill="#767676"/>
<polyline points="53.13,887.84 79.81,874.86 138.50,855.69 154.50,838.20 191.84,814.52 207.85,813.95" fill="none" stroke="#000" stroke-width="1.5" stroke-linejoin="miter"/>
<line x1="53.13" y1="886.71" x2="53.13" y2="888.96" stroke="#333" stroke-width="0.9" stroke-linecap="butt"/>
<line x1="51.13" y1="886.71" x2="55.13" y2="886.71" stroke="#333" stroke-width="0.9" stroke-linecap="butt"/>
<line x1="51.13" y1="888.96" x2="55.13" y2="888.96" stroke="#333" stroke-width="0.9" stroke-linecap="butt"/>
<line x1="79.81" y1="871.48" x2="79.81" y2="877.12" stroke="#333" stroke-width="0.9" stroke-linecap="butt"/>
<line x1="77.81" y1="871.48" x2="81.81" y2="871.48" stroke="#333" stroke-width="0.9" stroke-linecap="butt"/>
<line x1="77.81" y1="877.12" x2="81.81" y2="877.12" stroke="#333" stroke-width="0.9" stroke-linecap="butt"/>
<line x1="138.50" y1="850.05" x2="138.50" y2="860.76" stroke="#333" stroke-width="0.9" stroke-linecap="butt"/>
<line x1="136.50" y1="850.05" x2="140.50" y2="850.05" stroke="#333" stroke-width="0.9" stroke-linecap="butt"/>
<line x1="136.50" y1="860.76" x2="140.50" y2="860.76" stroke="#333" stroke-width="0.9" stroke-linecap="butt"/>
<line x1="154.50" y1="829.18" x2="154.50" y2="847.23" stroke="#333" stroke-width="0.9" stroke-linecap="butt"/>
<line x1="152.50" y1="829.18" x2="156.50" y2="829.18" stroke="#333" stroke-width="0.9" stroke-linecap="butt"/>
<line x1="152.50" y1="847.23" x2="156.50" y2="847.23" stroke="#333" stroke-width="0.9" stroke-linecap="butt"/>
<line x1="191.84" y1="800.98" x2="191.84" y2="827.49" stroke="#333" stroke-width="0.9" stroke-linecap="butt"/>
<line x1="189.84" y1="800.98" x2="193.84" y2="800.98" stroke="#333" stroke-width="0.9" stroke-linecap="butt"/>
<line x1="189.84" y1="827.49" x2="193.84" y2="827.49" stroke="#333" stroke-width="0.9" stroke-linecap="butt"/>
<line x1="207.85" y1="798.72" x2="207.85" y2="829.18" stroke="#333" stroke-width="0.9" stroke-linecap="butt"/>
<line x1="205.85" y1="798.72" x2="209.85" y2="798.72" stroke="#333" stroke-width="0.9" stroke-linecap="butt"/>
<line x1="205.85" y1="829.18" x2="209.85" y2="829.18" stroke="#333" stroke-width="0.9" stroke-linecap="butt"/>
<circle cx="53.13" cy="887.84" r="2.45" fill="#000"/>
<circle cx="79.81" cy="874.86" r="2.45" fill="#000"/>
<circle cx="138.50" cy="855.69" r="2.45" fill="#000"/>
<circle cx="154.50" cy="838.20" r="2.45" fill="#000"/>
<circle cx="191.84" cy="814.52" r="2.45" fill="#000"/>
<circle cx="207.85" cy="813.95" r="2.45" fill="#000"/>
<text x="215.50" y="844.30" font-size="8.3" font-weight="bold" text-anchor="start" fill="#333" >**</text>
<text x="10.60" y="845.20" font-size="9.3" font-weight="bold" text-anchor="middle" transform="rotate(-90 10.60 845.20)">Tumor volume (mm<tspan font-size="6.05" dy="-3.53">3</tspan><tspan dy="3.53">)</tspan></text>
<text x="133.60" y="931.20" font-size="9.55" font-weight="bold" text-anchor="middle" fill="#000" >Days of treatment</text>
<line x1="264.90" y1="789.65" x2="264.90" y2="903.10" stroke="#000" stroke-width="1.4" stroke-linecap="butt"/>
<line x1="262.40" y1="902.40" x2="264.90" y2="902.40" stroke="#000" stroke-width="1.1" stroke-linecap="butt"/>
<line x1="262.40" y1="897.27" x2="264.90" y2="897.27" stroke="#000" stroke-width="1.1" stroke-linecap="butt"/>
<line x1="262.40" y1="892.15" x2="264.90" y2="892.15" stroke="#000" stroke-width="1.1" stroke-linecap="butt"/>
<line x1="262.40" y1="887.02" x2="264.90" y2="887.02" stroke="#000" stroke-width="1.1" stroke-linecap="butt"/>
<line x1="262.40" y1="881.90" x2="264.90" y2="881.90" stroke="#000" stroke-width="1.1" stroke-linecap="butt"/>
<line x1="262.40" y1="876.77" x2="264.90" y2="876.77" stroke="#000" stroke-width="1.1" stroke-linecap="butt"/>
<line x1="262.40" y1="871.65" x2="264.90" y2="871.65" stroke="#000" stroke-width="1.1" stroke-linecap="butt"/>
<line x1="262.40" y1="866.52" x2="264.90" y2="866.52" stroke="#000" stroke-width="1.1" stroke-linecap="butt"/>
<line x1="262.40" y1="861.40" x2="264.90" y2="861.40" stroke="#000" stroke-width="1.1" stroke-linecap="butt"/>
<line x1="262.40" y1="856.27" x2="264.90" y2="856.27" stroke="#000" stroke-width="1.1" stroke-linecap="butt"/>
<line x1="262.40" y1="851.15" x2="264.90" y2="851.15" stroke="#000" stroke-width="1.1" stroke-linecap="butt"/>
<line x1="262.40" y1="846.02" x2="264.90" y2="846.02" stroke="#000" stroke-width="1.1" stroke-linecap="butt"/>
<line x1="262.40" y1="840.90" x2="264.90" y2="840.90" stroke="#000" stroke-width="1.1" stroke-linecap="butt"/>
<line x1="262.40" y1="835.77" x2="264.90" y2="835.77" stroke="#000" stroke-width="1.1" stroke-linecap="butt"/>
<line x1="262.40" y1="830.65" x2="264.90" y2="830.65" stroke="#000" stroke-width="1.1" stroke-linecap="butt"/>
<line x1="262.40" y1="825.52" x2="264.90" y2="825.52" stroke="#000" stroke-width="1.1" stroke-linecap="butt"/>
<line x1="262.40" y1="820.40" x2="264.90" y2="820.40" stroke="#000" stroke-width="1.1" stroke-linecap="butt"/>
<line x1="262.40" y1="815.27" x2="264.90" y2="815.27" stroke="#000" stroke-width="1.1" stroke-linecap="butt"/>
<line x1="262.40" y1="810.15" x2="264.90" y2="810.15" stroke="#000" stroke-width="1.1" stroke-linecap="butt"/>
<line x1="262.40" y1="805.02" x2="264.90" y2="805.02" stroke="#000" stroke-width="1.1" stroke-linecap="butt"/>
<line x1="262.40" y1="799.90" x2="264.90" y2="799.90" stroke="#000" stroke-width="1.1" stroke-linecap="butt"/>
<line x1="262.40" y1="794.77" x2="264.90" y2="794.77" stroke="#000" stroke-width="1.1" stroke-linecap="butt"/>
<line x1="262.40" y1="789.65" x2="264.90" y2="789.65" stroke="#000" stroke-width="1.1" stroke-linecap="butt"/>
<line x1="260.60" y1="902.40" x2="264.90" y2="902.40" stroke="#000" stroke-width="1.2" stroke-linecap="butt"/>
<text x="259.00" y="905.30" font-size="8.4" font-weight="bold" text-anchor="end" fill="#000" >0</text>
<line x1="260.60" y1="851.15" x2="264.90" y2="851.15" stroke="#000" stroke-width="1.2" stroke-linecap="butt"/>
<text x="259.00" y="854.05" font-size="8.4" font-weight="bold" text-anchor="end" fill="#000" >50</text>
<line x1="260.60" y1="799.90" x2="264.90" y2="799.90" stroke="#000" stroke-width="1.2" stroke-linecap="butt"/>
<text x="259.00" y="802.80" font-size="8.4" font-weight="bold" text-anchor="end" fill="#000" >100</text>
<line x1="264.20" y1="902.40" x2="435.30" y2="902.40" stroke="#000" stroke-width="1.4" stroke-linecap="butt"/>
<line x1="264.90" y1="902.40" x2="264.90" y2="904.90" stroke="#000" stroke-width="1.1" stroke-linecap="butt"/>
<line x1="270.58" y1="902.40" x2="270.58" y2="904.90" stroke="#000" stroke-width="1.1" stroke-linecap="butt"/>
<line x1="276.26" y1="902.40" x2="276.26" y2="904.90" stroke="#000" stroke-width="1.1" stroke-linecap="butt"/>
<line x1="281.94" y1="902.40" x2="281.94" y2="904.90" stroke="#000" stroke-width="1.1" stroke-linecap="butt"/>
<line x1="287.62" y1="902.40" x2="287.62" y2="904.90" stroke="#000" stroke-width="1.1" stroke-linecap="butt"/>
<line x1="293.30" y1="902.40" x2="293.30" y2="904.90" stroke="#000" stroke-width="1.1" stroke-linecap="butt"/>
<line x1="298.98" y1="902.40" x2="298.98" y2="904.90" stroke="#000" stroke-width="1.1" stroke-linecap="butt"/>
<line x1="304.66" y1="902.40" x2="304.66" y2="904.90" stroke="#000" stroke-width="1.1" stroke-linecap="butt"/>
<line x1="310.34" y1="902.40" x2="310.34" y2="904.90" stroke="#000" stroke-width="1.1" stroke-linecap="butt"/>
<line x1="316.02" y1="902.40" x2="316.02" y2="904.90" stroke="#000" stroke-width="1.1" stroke-linecap="butt"/>
<line x1="321.70" y1="902.40" x2="321.70" y2="904.90" stroke="#000" stroke-width="1.1" stroke-linecap="butt"/>
<line x1="327.38" y1="902.40" x2="327.38" y2="904.90" stroke="#000" stroke-width="1.1" stroke-linecap="butt"/>
<line x1="333.06" y1="902.40" x2="333.06" y2="904.90" stroke="#000" stroke-width="1.1" stroke-linecap="butt"/>
<line x1="338.74" y1="902.40" x2="338.74" y2="904.90" stroke="#000" stroke-width="1.1" stroke-linecap="butt"/>
<line x1="344.42" y1="902.40" x2="344.42" y2="904.90" stroke="#000" stroke-width="1.1" stroke-linecap="butt"/>
<line x1="350.10" y1="902.40" x2="350.10" y2="904.90" stroke="#000" stroke-width="1.1" stroke-linecap="butt"/>
<line x1="355.78" y1="902.40" x2="355.78" y2="904.90" stroke="#000" stroke-width="1.1" stroke-linecap="butt"/>
<line x1="361.46" y1="902.40" x2="361.46" y2="904.90" stroke="#000" stroke-width="1.1" stroke-linecap="butt"/>
<line x1="367.14" y1="902.40" x2="367.14" y2="904.90" stroke="#000" stroke-width="1.1" stroke-linecap="butt"/>
<line x1="372.82" y1="902.40" x2="372.82" y2="904.90" stroke="#000" stroke-width="1.1" stroke-linecap="butt"/>
<line x1="378.50" y1="902.40" x2="378.50" y2="904.90" stroke="#000" stroke-width="1.1" stroke-linecap="butt"/>
<line x1="384.18" y1="902.40" x2="384.18" y2="904.90" stroke="#000" stroke-width="1.1" stroke-linecap="butt"/>
<line x1="389.86" y1="902.40" x2="389.86" y2="904.90" stroke="#000" stroke-width="1.1" stroke-linecap="butt"/>
<line x1="395.54" y1="902.40" x2="395.54" y2="904.90" stroke="#000" stroke-width="1.1" stroke-linecap="butt"/>
<line x1="401.22" y1="902.40" x2="401.22" y2="904.90" stroke="#000" stroke-width="1.1" stroke-linecap="butt"/>
<line x1="406.90" y1="902.40" x2="406.90" y2="904.90" stroke="#000" stroke-width="1.1" stroke-linecap="butt"/>
<line x1="412.58" y1="902.40" x2="412.58" y2="904.90" stroke="#000" stroke-width="1.1" stroke-linecap="butt"/>
<line x1="418.26" y1="902.40" x2="418.26" y2="904.90" stroke="#000" stroke-width="1.1" stroke-linecap="butt"/>
<line x1="423.94" y1="902.40" x2="423.94" y2="904.90" stroke="#000" stroke-width="1.1" stroke-linecap="butt"/>
<line x1="429.62" y1="902.40" x2="429.62" y2="904.90" stroke="#000" stroke-width="1.1" stroke-linecap="butt"/>
<line x1="435.30" y1="902.40" x2="435.30" y2="904.90" stroke="#000" stroke-width="1.1" stroke-linecap="butt"/>
<line x1="264.90" y1="902.40" x2="264.90" y2="906.70" stroke="#000" stroke-width="1.2" stroke-linecap="butt"/>
<text x="264.90" y="916.50" font-size="8.4" font-weight="bold" text-anchor="middle" fill="#000" >20</text>
<line x1="321.70" y1="902.40" x2="321.70" y2="906.70" stroke="#000" stroke-width="1.2" stroke-linecap="butt"/>
<text x="321.70" y="916.50" font-size="8.4" font-weight="bold" text-anchor="middle" fill="#000" >40</text>
<line x1="378.50" y1="902.40" x2="378.50" y2="906.70" stroke="#000" stroke-width="1.2" stroke-linecap="butt"/>
<text x="378.50" y="916.50" font-size="8.4" font-weight="bold" text-anchor="middle" fill="#000" >60</text>
<line x1="435.30" y1="902.40" x2="435.30" y2="906.70" stroke="#000" stroke-width="1.2" stroke-linecap="butt"/>
<text x="435.30" y="916.50" font-size="8.4" font-weight="bold" text-anchor="middle" fill="#000" >80</text>
<polyline points="264.90,799.90 332.49,799.90 332.49,799.90 332.49,799.90 332.49,811.17 355.78,811.17 355.78,811.17 355.78,811.17 355.78,822.45 364.30,822.45 364.30,822.45 364.30,822.45 364.30,833.73 367.14,833.73 367.14,833.73 367.14,833.73 367.14,851.15 378.50,851.15 378.50,851.15 378.50,851.15 378.50,884.98 396.39,884.98 396.39,884.98 396.39,884.98 396.39,902.40" fill="none" stroke="#555" stroke-width="1.2" stroke-linejoin="miter" stroke-dasharray="3.5,2"/>
<polyline points="264.90,799.90 324.54,799.90 324.54,799.90 324.54,799.90 324.54,812.71 333.06,812.71 333.06,812.71 333.06,812.71 333.06,851.15 344.42,851.15 344.42,851.15 344.42,851.15 344.42,863.96 347.26,863.96 347.26,863.96 347.26,863.96 347.26,882.92" fill="none" stroke="#000" stroke-width="1.45" stroke-linejoin="miter"/>
<line x1="296.14" y1="797.90" x2="296.14" y2="799.90" stroke="#000" stroke-width="1" stroke-linecap="butt"/>
<line x1="304.66" y1="797.90" x2="304.66" y2="799.90" stroke="#000" stroke-width="1" stroke-linecap="butt"/>
<text x="238.00" y="845.20" font-size="9.4" font-weight="bold" text-anchor="middle" fill="#000" transform="rotate(-90 238.00 845.20)">% Survival</text>
<text x="350.50" y="931.40" font-size="9.6" font-weight="bold" text-anchor="middle" fill="#000" >Days post graft</text>
<line x1="487.60" y1="789.20" x2="487.60" y2="903.70" stroke="#000" stroke-width="1.4" stroke-linecap="butt"/>
<line x1="485.10" y1="903.00" x2="487.60" y2="903.00" stroke="#000" stroke-width="1.1" stroke-linecap="butt"/>
<line x1="485.10" y1="897.31" x2="487.60" y2="897.31" stroke="#000" stroke-width="1.1" stroke-linecap="butt"/>
<line x1="485.10" y1="891.62" x2="487.60" y2="891.62" stroke="#000" stroke-width="1.1" stroke-linecap="butt"/>
<line x1="485.10" y1="885.93" x2="487.60" y2="885.93" stroke="#000" stroke-width="1.1" stroke-linecap="butt"/>
<line x1="485.10" y1="880.24" x2="487.60" y2="880.24" stroke="#000" stroke-width="1.1" stroke-linecap="butt"/>
<line x1="485.10" y1="874.55" x2="487.60" y2="874.55" stroke="#000" stroke-width="1.1" stroke-linecap="butt"/>
<line x1="485.10" y1="868.86" x2="487.60" y2="868.86" stroke="#000" stroke-width="1.1" stroke-linecap="butt"/>
<line x1="485.10" y1="863.17" x2="487.60" y2="863.17" stroke="#000" stroke-width="1.1" stroke-linecap="butt"/>
<line x1="485.10" y1="857.48" x2="487.60" y2="857.48" stroke="#000" stroke-width="1.1" stroke-linecap="butt"/>
<line x1="485.10" y1="851.79" x2="487.60" y2="851.79" stroke="#000" stroke-width="1.1" stroke-linecap="butt"/>
<line x1="485.10" y1="846.10" x2="487.60" y2="846.10" stroke="#000" stroke-width="1.1" stroke-linecap="butt"/>
<line x1="485.10" y1="840.41" x2="487.60" y2="840.41" stroke="#000" stroke-width="1.1" stroke-linecap="butt"/>
<line x1="485.10" y1="834.72" x2="487.60" y2="834.72" stroke="#000" stroke-width="1.1" stroke-linecap="butt"/>
<line x1="485.10" y1="829.03" x2="487.60" y2="829.03" stroke="#000" stroke-width="1.1" stroke-linecap="butt"/>
<line x1="485.10" y1="823.34" x2="487.60" y2="823.34" stroke="#000" stroke-width="1.1" stroke-linecap="butt"/>
<line x1="485.10" y1="817.65" x2="487.60" y2="817.65" stroke="#000" stroke-width="1.1" stroke-linecap="butt"/>
<line x1="485.10" y1="811.96" x2="487.60" y2="811.96" stroke="#000" stroke-width="1.1" stroke-linecap="butt"/>
<line x1="485.10" y1="806.27" x2="487.60" y2="806.27" stroke="#000" stroke-width="1.1" stroke-linecap="butt"/>
<line x1="485.10" y1="800.58" x2="487.60" y2="800.58" stroke="#000" stroke-width="1.1" stroke-linecap="butt"/>
<line x1="485.10" y1="794.89" x2="487.60" y2="794.89" stroke="#000" stroke-width="1.1" stroke-linecap="butt"/>
<line x1="485.10" y1="789.20" x2="487.60" y2="789.20" stroke="#000" stroke-width="1.1" stroke-linecap="butt"/>
<line x1="483.30" y1="903.00" x2="487.60" y2="903.00" stroke="#000" stroke-width="1.2" stroke-linecap="butt"/>
<text x="481.70" y="905.90" font-size="8.4" font-weight="bold" text-anchor="end" fill="#000" >80</text>
<line x1="483.30" y1="846.10" x2="487.60" y2="846.10" stroke="#000" stroke-width="1.2" stroke-linecap="butt"/>
<text x="481.70" y="849.00" font-size="8.4" font-weight="bold" text-anchor="end" fill="#000" >100</text>
<line x1="483.30" y1="789.20" x2="487.60" y2="789.20" stroke="#000" stroke-width="1.2" stroke-linecap="butt"/>
<text x="481.70" y="792.10" font-size="8.4" font-weight="bold" text-anchor="end" fill="#000" >120</text>
<line x1="486.90" y1="903.00" x2="659.28" y2="903.00" stroke="#000" stroke-width="1.4" stroke-linecap="butt"/>
<line x1="487.60" y1="903.00" x2="487.60" y2="905.50" stroke="#000" stroke-width="1.1" stroke-linecap="butt"/>
<line x1="492.50" y1="903.00" x2="492.50" y2="905.50" stroke="#000" stroke-width="1.1" stroke-linecap="butt"/>
<line x1="497.41" y1="903.00" x2="497.41" y2="905.50" stroke="#000" stroke-width="1.1" stroke-linecap="butt"/>
<line x1="502.31" y1="903.00" x2="502.31" y2="905.50" stroke="#000" stroke-width="1.1" stroke-linecap="butt"/>
<line x1="507.22" y1="903.00" x2="507.22" y2="905.50" stroke="#000" stroke-width="1.1" stroke-linecap="butt"/>
<line x1="512.12" y1="903.00" x2="512.12" y2="905.50" stroke="#000" stroke-width="1.1" stroke-linecap="butt"/>
<line x1="517.03" y1="903.00" x2="517.03" y2="905.50" stroke="#000" stroke-width="1.1" stroke-linecap="butt"/>
<line x1="521.94" y1="903.00" x2="521.94" y2="905.50" stroke="#000" stroke-width="1.1" stroke-linecap="butt"/>
<line x1="526.84" y1="903.00" x2="526.84" y2="905.50" stroke="#000" stroke-width="1.1" stroke-linecap="butt"/>
<line x1="531.75" y1="903.00" x2="531.75" y2="905.50" stroke="#000" stroke-width="1.1" stroke-linecap="butt"/>
<line x1="536.65" y1="903.00" x2="536.65" y2="905.50" stroke="#000" stroke-width="1.1" stroke-linecap="butt"/>
<line x1="541.56" y1="903.00" x2="541.56" y2="905.50" stroke="#000" stroke-width="1.1" stroke-linecap="butt"/>
<line x1="546.46" y1="903.00" x2="546.46" y2="905.50" stroke="#000" stroke-width="1.1" stroke-linecap="butt"/>
<line x1="551.37" y1="903.00" x2="551.37" y2="905.50" stroke="#000" stroke-width="1.1" stroke-linecap="butt"/>
<line x1="556.27" y1="903.00" x2="556.27" y2="905.50" stroke="#000" stroke-width="1.1" stroke-linecap="butt"/>
<line x1="561.18" y1="903.00" x2="561.18" y2="905.50" stroke="#000" stroke-width="1.1" stroke-linecap="butt"/>
<line x1="566.08" y1="903.00" x2="566.08" y2="905.50" stroke="#000" stroke-width="1.1" stroke-linecap="butt"/>
<line x1="570.99" y1="903.00" x2="570.99" y2="905.50" stroke="#000" stroke-width="1.1" stroke-linecap="butt"/>
<line x1="575.89" y1="903.00" x2="575.89" y2="905.50" stroke="#000" stroke-width="1.1" stroke-linecap="butt"/>
<line x1="580.80" y1="903.00" x2="580.80" y2="905.50" stroke="#000" stroke-width="1.1" stroke-linecap="butt"/>
<line x1="585.70" y1="903.00" x2="585.70" y2="905.50" stroke="#000" stroke-width="1.1" stroke-linecap="butt"/>
<line x1="590.61" y1="903.00" x2="590.61" y2="905.50" stroke="#000" stroke-width="1.1" stroke-linecap="butt"/>
<line x1="595.51" y1="903.00" x2="595.51" y2="905.50" stroke="#000" stroke-width="1.1" stroke-linecap="butt"/>
<line x1="600.42" y1="903.00" x2="600.42" y2="905.50" stroke="#000" stroke-width="1.1" stroke-linecap="butt"/>
<line x1="605.32" y1="903.00" x2="605.32" y2="905.50" stroke="#000" stroke-width="1.1" stroke-linecap="butt"/>
<line x1="610.23" y1="903.00" x2="610.23" y2="905.50" stroke="#000" stroke-width="1.1" stroke-linecap="butt"/>
<line x1="615.13" y1="903.00" x2="615.13" y2="905.50" stroke="#000" stroke-width="1.1" stroke-linecap="butt"/>
<line x1="620.04" y1="903.00" x2="620.04" y2="905.50" stroke="#000" stroke-width="1.1" stroke-linecap="butt"/>
<line x1="624.94" y1="903.00" x2="624.94" y2="905.50" stroke="#000" stroke-width="1.1" stroke-linecap="butt"/>
<line x1="629.85" y1="903.00" x2="629.85" y2="905.50" stroke="#000" stroke-width="1.1" stroke-linecap="butt"/>
<line x1="634.75" y1="903.00" x2="634.75" y2="905.50" stroke="#000" stroke-width="1.1" stroke-linecap="butt"/>
<line x1="639.65" y1="903.00" x2="639.65" y2="905.50" stroke="#000" stroke-width="1.1" stroke-linecap="butt"/>
<line x1="644.56" y1="903.00" x2="644.56" y2="905.50" stroke="#000" stroke-width="1.1" stroke-linecap="butt"/>
<line x1="649.47" y1="903.00" x2="649.47" y2="905.50" stroke="#000" stroke-width="1.1" stroke-linecap="butt"/>
<line x1="654.37" y1="903.00" x2="654.37" y2="905.50" stroke="#000" stroke-width="1.1" stroke-linecap="butt"/>
<line x1="659.28" y1="903.00" x2="659.28" y2="905.50" stroke="#000" stroke-width="1.1" stroke-linecap="butt"/>
<line x1="487.60" y1="903.00" x2="487.60" y2="907.30" stroke="#000" stroke-width="1.2" stroke-linecap="butt"/>
<text x="487.60" y="916.40" font-size="8.4" font-weight="bold" text-anchor="middle" fill="#000" >0</text>
<line x1="536.65" y1="903.00" x2="536.65" y2="907.30" stroke="#000" stroke-width="1.2" stroke-linecap="butt"/>
<text x="536.65" y="916.40" font-size="8.4" font-weight="bold" text-anchor="middle" fill="#000" >10</text>
<line x1="585.70" y1="903.00" x2="585.70" y2="907.30" stroke="#000" stroke-width="1.2" stroke-linecap="butt"/>
<text x="585.70" y="916.40" font-size="8.4" font-weight="bold" text-anchor="middle" fill="#000" >20</text>
<line x1="634.75" y1="903.00" x2="634.75" y2="907.30" stroke="#000" stroke-width="1.2" stroke-linecap="butt"/>
<text x="634.75" y="916.40" font-size="8.4" font-weight="bold" text-anchor="middle" fill="#000" >30</text>
<polyline points="492.50,846.10 517.03,867.44 570.99,866.58 585.70,872.27 620.04,860.89 634.75,855.20 659.28,851.79" fill="none" stroke="#8a8a8a" stroke-width="1.2" stroke-linejoin="miter" stroke-dasharray="4,2.5"/>
<line x1="517.03" y1="861.75" x2="517.03" y2="871.71" stroke="#aaa" stroke-width="0.9" stroke-linecap="butt"/>
<line x1="515.03" y1="861.75" x2="519.03" y2="861.75" stroke="#aaa" stroke-width="0.9" stroke-linecap="butt"/>
<line x1="515.03" y1="871.71" x2="519.03" y2="871.71" stroke="#aaa" stroke-width="0.9" stroke-linecap="butt"/>
<line x1="570.99" y1="863.17" x2="570.99" y2="868.86" stroke="#aaa" stroke-width="0.9" stroke-linecap="butt"/>
<line x1="568.99" y1="863.17" x2="572.99" y2="863.17" stroke="#aaa" stroke-width="0.9" stroke-linecap="butt"/>
<line x1="568.99" y1="868.86" x2="572.99" y2="868.86" stroke="#aaa" stroke-width="0.9" stroke-linecap="butt"/>
<line x1="585.70" y1="866.58" x2="585.70" y2="877.96" stroke="#aaa" stroke-width="0.9" stroke-linecap="butt"/>
<line x1="583.70" y1="866.58" x2="587.70" y2="866.58" stroke="#aaa" stroke-width="0.9" stroke-linecap="butt"/>
<line x1="583.70" y1="877.96" x2="587.70" y2="877.96" stroke="#aaa" stroke-width="0.9" stroke-linecap="butt"/>
<line x1="620.04" y1="855.20" x2="620.04" y2="866.58" stroke="#aaa" stroke-width="0.9" stroke-linecap="butt"/>
<line x1="618.04" y1="855.20" x2="622.04" y2="855.20" stroke="#aaa" stroke-width="0.9" stroke-linecap="butt"/>
<line x1="618.04" y1="866.58" x2="622.04" y2="866.58" stroke="#aaa" stroke-width="0.9" stroke-linecap="butt"/>
<line x1="634.75" y1="848.94" x2="634.75" y2="861.75" stroke="#aaa" stroke-width="0.9" stroke-linecap="butt"/>
<line x1="632.75" y1="848.94" x2="636.75" y2="848.94" stroke="#aaa" stroke-width="0.9" stroke-linecap="butt"/>
<line x1="632.75" y1="861.75" x2="636.75" y2="861.75" stroke="#aaa" stroke-width="0.9" stroke-linecap="butt"/>
<line x1="659.28" y1="846.10" x2="659.28" y2="857.48" stroke="#aaa" stroke-width="0.9" stroke-linecap="butt"/>
<line x1="657.28" y1="846.10" x2="661.28" y2="846.10" stroke="#aaa" stroke-width="0.9" stroke-linecap="butt"/>
<line x1="657.28" y1="857.48" x2="661.28" y2="857.48" stroke="#aaa" stroke-width="0.9" stroke-linecap="butt"/>
<polygon points="492.50,849.21 495.48,844.08 489.53,844.08" fill="#808080"/>
<polygon points="517.03,870.54 520.00,865.41 514.06,865.41" fill="#808080"/>
<polygon points="570.99,869.69 573.96,864.56 568.01,864.56" fill="#808080"/>
<polygon points="585.70,875.38 588.67,870.25 582.73,870.25" fill="#808080"/>
<polygon points="620.04,864.00 623.01,858.87 617.07,858.87" fill="#808080"/>
<polygon points="634.75,858.31 637.72,853.18 631.78,853.18" fill="#808080"/>
<polygon points="659.28,854.89 662.25,849.76 656.31,849.76" fill="#808080"/>
<polyline points="492.50,846.10 517.03,856.06 570.99,848.38 585.70,850.08 620.04,851.51 634.75,845.53 659.28,849.80" fill="none" stroke="#000" stroke-width="1.5" stroke-linejoin="miter"/>
<line x1="517.03" y1="847.81" x2="517.03" y2="864.59" stroke="#333" stroke-width="0.9" stroke-linecap="butt"/>
<line x1="515.03" y1="847.81" x2="519.03" y2="847.81" stroke="#333" stroke-width="0.9" stroke-linecap="butt"/>
<line x1="515.03" y1="864.59" x2="519.03" y2="864.59" stroke="#333" stroke-width="0.9" stroke-linecap="butt"/>
<line x1="570.99" y1="841.26" x2="570.99" y2="855.20" stroke="#333" stroke-width="0.9" stroke-linecap="butt"/>
<line x1="568.99" y1="841.26" x2="572.99" y2="841.26" stroke="#333" stroke-width="0.9" stroke-linecap="butt"/>
<line x1="568.99" y1="855.20" x2="572.99" y2="855.20" stroke="#333" stroke-width="0.9" stroke-linecap="butt"/>
<line x1="585.70" y1="843.25" x2="585.70" y2="856.91" stroke="#333" stroke-width="0.9" stroke-linecap="butt"/>
<line x1="583.70" y1="843.25" x2="587.70" y2="843.25" stroke="#333" stroke-width="0.9" stroke-linecap="butt"/>
<line x1="583.70" y1="856.91" x2="587.70" y2="856.91" stroke="#333" stroke-width="0.9" stroke-linecap="butt"/>
<line x1="620.04" y1="844.11" x2="620.04" y2="858.90" stroke="#333" stroke-width="0.9" stroke-linecap="butt"/>
<line x1="618.04" y1="844.11" x2="622.04" y2="844.11" stroke="#333" stroke-width="0.9" stroke-linecap="butt"/>
<line x1="618.04" y1="858.90" x2="622.04" y2="858.90" stroke="#333" stroke-width="0.9" stroke-linecap="butt"/>
<line x1="634.75" y1="839.27" x2="634.75" y2="851.79" stroke="#333" stroke-width="0.9" stroke-linecap="butt"/>
<line x1="632.75" y1="839.27" x2="636.75" y2="839.27" stroke="#333" stroke-width="0.9" stroke-linecap="butt"/>
<line x1="632.75" y1="851.79" x2="636.75" y2="851.79" stroke="#333" stroke-width="0.9" stroke-linecap="butt"/>
<line x1="659.28" y1="841.26" x2="659.28" y2="858.05" stroke="#333" stroke-width="0.9" stroke-linecap="butt"/>
<line x1="657.28" y1="841.26" x2="661.28" y2="841.26" stroke="#333" stroke-width="0.9" stroke-linecap="butt"/>
<line x1="657.28" y1="858.05" x2="661.28" y2="858.05" stroke="#333" stroke-width="0.9" stroke-linecap="butt"/>
<circle cx="492.50" cy="846.10" r="2.45" fill="#000"/>
<circle cx="517.03" cy="856.06" r="2.45" fill="#000"/>
<circle cx="570.99" cy="848.38" r="2.45" fill="#000"/>
<circle cx="585.70" cy="850.08" r="2.45" fill="#000"/>
<circle cx="620.04" cy="851.51" r="2.45" fill="#000"/>
<circle cx="634.75" cy="845.53" r="2.45" fill="#000"/>
<circle cx="659.28" cy="849.80" r="2.45" fill="#000"/>
<text x="645.00" y="868.00" font-size="8.3" font-weight="bold" text-anchor="start" fill="#333" >*</text>
<text x="461.20" y="846.00" font-size="9.4" font-weight="bold" text-anchor="middle" fill="#000" transform="rotate(-90 461.20 846.00)">Body weight %</text>
<text x="573.40" y="931.20" font-size="9.6" font-weight="bold" text-anchor="middle" fill="#000" >Days of treatment</text>
</svg></body></html>
